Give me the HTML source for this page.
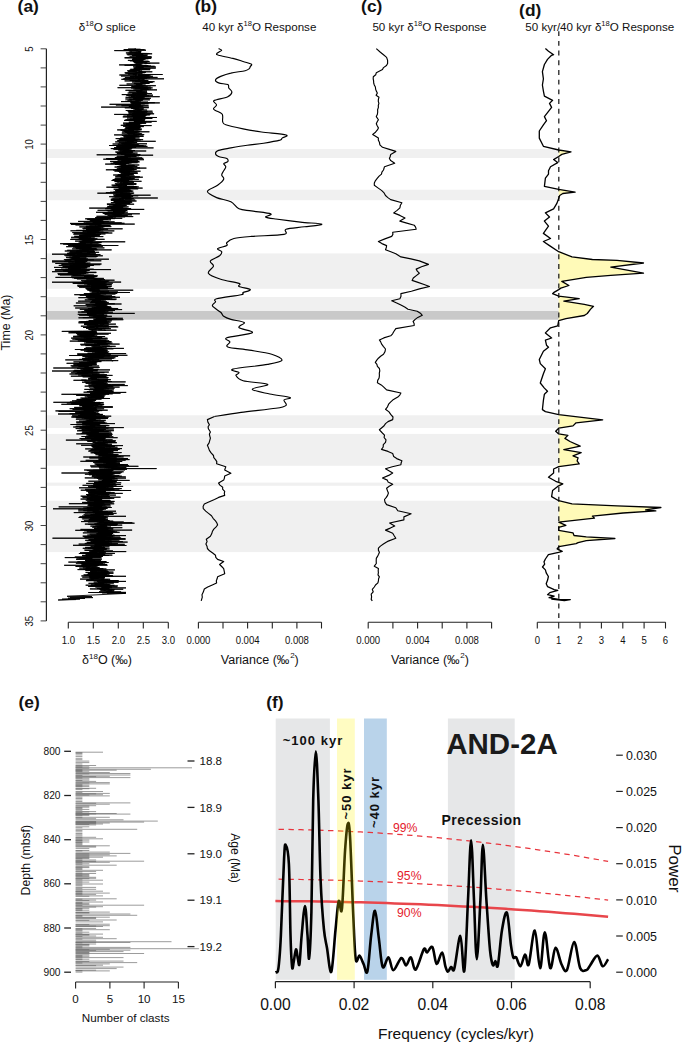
<!DOCTYPE html><html><head><meta charset="utf-8"><style>
html,body{margin:0;padding:0;background:#fff;overflow:hidden;width:685px;height:1049px;}
svg{display:block;}
text{font-family:"Liberation Sans",sans-serif;fill:#111;}
.t{font-size:10.2px;}
.l{font-size:12.5px;}
.l2{font-size:12.4px;}
.sup{font-size:8px;}
.sups{font-size:7.6px;}
.tt{font-size:11.6px;}
.pl{font-size:17.4px;font-weight:bold;}
.e{font-size:10.2px;}
.e2{font-size:11.6px;}
.e3{font-size:12.1px;}
.e4{font-size:11.7px;}
.e5{font-size:12.2px;}
.pc{font-size:12.2px;fill:#e4202c;}
.fb{font-size:13px;font-weight:bold;letter-spacing:1px;}
.fb2{font-size:14px;font-weight:bold;letter-spacing:0.55px;}
.big{font-size:29.5px;font-weight:bold;fill:#1a1a1a;}
.fx{font-size:15.7px;}
.fx2{font-size:15.5px;}
.fy{font-size:12.4px;}
.pw{font-size:17px;}
</style></head><body><svg width="685" height="1049" viewBox="0 0 685 1049"><rect width="685" height="1049" fill="#fff"/><rect x="46.8" y="149.1" width="511.99999999999994" height="8.9" fill="#f0f0f0"/><rect x="46.8" y="189.7" width="511.99999999999994" height="10.5" fill="#f0f0f0"/><rect x="46.8" y="253.4" width="511.99999999999994" height="35.4" fill="#f0f0f0"/><rect x="46.8" y="297" width="511.99999999999994" height="14.0" fill="#f0f0f0"/><rect x="46.8" y="311" width="511.99999999999994" height="8.7" fill="#c9c9c9"/><rect x="46.8" y="415.3" width="511.99999999999994" height="12.7" fill="#f0f0f0"/><rect x="46.8" y="433.9" width="511.99999999999994" height="31.9" fill="#f0f0f0"/><rect x="46.8" y="482.6" width="511.99999999999994" height="3.2" fill="#f0f0f0"/><rect x="46.8" y="500.7" width="511.99999999999994" height="51.4" fill="#f0f0f0"/><polyline points="135.3,48.8 135.9,48.9 133.3,49.0 128.1,49.1 135.1,49.2 140.5,49.3 133.7,49.4 136.8,49.5 123.7,49.6 144.6,49.7 135.4,49.8 124.0,49.9 136.8,50.0 138.0,50.1 146.0,50.2 137.9,50.3 132.0,50.4 138.3,50.5 132.1,50.6 114.3,50.6 124.9,50.7 131.8,50.8 128.9,50.9 131.0,51.0 131.4,51.1 130.6,51.2 141.3,51.3 139.0,51.4 140.9,51.5 137.5,51.6 139.7,51.7 140.7,51.8 138.0,51.9 136.2,52.0 137.0,52.1 130.2,52.2 136.7,52.3 135.5,52.4 134.9,52.5 137.3,52.6 141.1,52.7 130.9,52.8 125.9,52.9 140.2,53.0 128.6,53.1 140.4,53.2 139.8,53.3 146.3,53.4 149.6,53.5 141.6,53.6 136.0,53.7 152.1,53.8 134.6,53.9 139.8,54.0 126.7,54.1 139.9,54.1 139.3,54.2 143.2,54.3 137.0,54.4 139.6,54.5 134.2,54.6 135.8,54.7 127.5,54.8 139.1,54.9 147.8,55.0 139.1,55.1 140.3,55.2 131.9,55.3 146.9,55.4 133.2,55.5 143.0,55.6 138.7,55.7 132.2,55.8 144.6,55.9 138.4,56.0 139.5,56.1 142.8,56.2 138.5,56.3 136.3,56.4 141.6,56.5 136.3,56.6 151.5,56.7 134.8,56.8 129.7,56.9 134.8,57.0 135.9,57.1 139.1,57.2 146.3,57.3 128.5,57.4 139.7,57.5 125.1,57.6 151.6,57.6 135.4,57.7 124.5,57.8 126.8,57.9 139.2,58.0 138.6,58.1 137.3,58.2 132.9,58.3 151.2,58.4 136.9,58.5 132.6,58.6 148.4,58.7 141.8,58.8 135.8,58.9 145.6,59.0 139.2,59.1 142.3,59.2 139.8,59.3 132.0,59.4 144.4,59.5 139.3,59.6 132.0,59.7 133.4,59.8 144.0,59.9 135.6,60.0 138.1,60.1 141.7,60.2 138.3,60.3 127.9,60.4 141.2,60.5 143.0,60.6 142.5,60.7 129.9,60.8 140.6,60.9 142.0,61.0 132.8,61.1 135.6,61.1 148.3,61.2 148.5,61.3 142.8,61.4 149.5,61.5 143.6,61.6 133.0,61.7 146.7,61.8 140.7,61.9 141.4,62.0 139.8,62.1 147.3,62.2 142.3,62.3 134.6,62.4 134.6,62.5 143.3,62.6 134.3,62.7 136.0,62.8 136.3,62.9 136.4,63.0 159.4,63.1 144.8,63.2 150.2,63.3 145.8,63.4 144.6,63.5 145.4,63.6 146.5,63.7 135.8,63.8 142.4,63.9 140.1,64.0 137.3,64.1 135.3,64.2 134.9,64.3 136.4,64.4 130.4,64.5 141.3,64.6 136.0,64.7 138.8,64.7 140.2,64.8 119.1,64.9 134.5,65.0 137.6,65.1 128.3,65.2 124.6,65.3 126.4,65.4 148.1,65.5 140.3,65.6 142.6,65.7 148.2,65.8 136.3,65.9 149.5,66.0 151.0,66.1 145.6,66.2 154.7,66.3 144.0,66.4 135.9,66.5 143.9,66.6 138.1,66.7 133.0,66.8 133.4,66.9 155.9,67.0 135.7,67.1 141.8,67.2 138.1,67.3 143.2,67.4 143.5,67.5 140.2,67.6 135.3,67.7 134.2,67.8 138.4,67.9 144.8,68.0 155.8,68.1 155.4,68.2 154.0,68.2 145.5,68.3 135.9,68.4 133.7,68.5 141.6,68.6 139.0,68.7 139.0,68.8 150.5,68.9 142.1,69.0 146.6,69.1 136.9,69.2 130.3,69.3 135.5,69.4 135.7,69.5 145.4,69.6 150.0,69.7 132.9,69.8 135.2,69.9 136.4,70.0 135.1,70.1 129.5,70.2 137.9,70.3 139.6,70.4 139.9,70.5 130.1,70.6 129.1,70.7 127.2,70.8 142.1,70.9 132.0,71.0 136.8,71.1 135.9,71.2 135.3,71.3 132.5,71.4 128.2,71.5 137.7,71.6 140.9,71.7 140.9,71.7 152.3,71.8 138.5,71.9 142.4,72.0 139.0,72.1 146.0,72.2 141.6,72.3 140.2,72.4 136.4,72.5 139.6,72.6 144.9,72.7 124.7,72.8 136.7,72.9 134.9,73.0 135.7,73.1 125.4,73.2 142.4,73.3 132.8,73.4 136.9,73.5 135.4,73.6 128.5,73.7 136.3,73.8 127.9,73.9 128.2,74.0 137.8,74.1 139.9,74.2 138.1,74.3 139.3,74.4 162.6,74.5 143.0,74.6 132.8,74.7 136.6,74.8 136.3,74.9 119.4,75.0 136.6,75.1 135.0,75.2 150.5,75.2 140.5,75.3 138.1,75.4 138.6,75.5 138.8,75.6 148.8,75.7 143.2,75.8 147.2,75.9 121.0,76.0 142.4,76.1 147.1,76.2 152.9,76.3 140.9,76.4 130.3,76.5 144.7,76.6 137.5,76.7 130.2,76.8 137.6,76.9 148.1,77.0 149.2,77.1 146.3,77.2 135.3,77.3 157.5,77.4 134.6,77.5 124.9,77.6 132.9,77.7 150.0,77.8 144.5,77.9 145.7,78.0 142.1,78.1 141.0,78.2 142.3,78.3 129.4,78.4 147.1,78.5 146.4,78.6 123.5,78.7 140.3,78.8 164.0,78.8 149.8,78.9 142.6,79.0 140.1,79.1 136.6,79.2 121.4,79.3 136.0,79.4 140.2,79.5 138.2,79.6 140.3,79.7 144.5,79.8 142.7,79.9 141.8,80.0 144.2,80.1 141.4,80.2 140.1,80.3 143.3,80.4 129.7,80.5 148.3,80.6 132.6,80.7 145.8,80.8 124.6,80.9 134.4,81.0 141.1,81.1 135.2,81.2 147.8,81.3 142.4,81.4 142.1,81.5 141.9,81.6 154.5,81.7 146.7,81.8 143.1,81.9 132.0,82.0 151.3,82.1 142.3,82.2 152.7,82.3 143.9,82.3 140.8,82.4 148.7,82.5 140.5,82.6 141.0,82.7 142.1,82.8 147.8,82.9 146.9,83.0 144.4,83.1 139.2,83.2 133.8,83.3 142.2,83.4 149.5,83.5 136.7,83.6 134.1,83.7 143.2,83.8 130.5,83.9 126.6,84.0 137.4,84.1 135.8,84.2 138.2,84.3 136.4,84.4 141.8,84.5 138.3,84.6 136.0,84.7 136.8,84.8 143.6,84.9 145.6,85.0 145.3,85.1 144.1,85.2 119.4,85.3 133.7,85.4 138.0,85.5 141.3,85.6 155.8,85.7 149.0,85.8 142.1,85.8 136.4,85.9 141.3,86.0 138.1,86.1 135.6,86.2 143.4,86.3 137.4,86.4 131.4,86.5 136.1,86.6 139.3,86.7 133.3,86.8 147.7,86.9 133.1,87.0 150.7,87.1 145.3,87.2 134.0,87.3 140.6,87.4 147.2,87.5 138.8,87.6 117.6,87.7 140.8,87.8 152.6,87.9 131.1,88.0 143.9,88.1 140.7,88.2 140.0,88.3 144.1,88.4 139.1,88.5 147.6,88.6 145.0,88.7 135.2,88.8 151.0,88.9 133.4,89.0 145.5,89.1 142.5,89.2 148.7,89.3 143.3,89.3 147.5,89.4 140.6,89.5 146.6,89.6 142.4,89.7 153.4,89.8 157.0,89.9 146.9,90.0 142.2,90.1 140.1,90.2 125.5,90.3 141.4,90.4 129.3,90.5 129.8,90.6 142.6,90.7 128.5,90.8 147.0,90.9 136.4,91.0 141.7,91.1 138.6,91.2 140.9,91.3 136.7,91.4 136.3,91.5 137.9,91.6 145.4,91.7 146.0,91.8 147.0,91.9 141.5,92.0 138.1,92.1 129.0,92.2 143.4,92.3 144.6,92.4 136.9,92.5 144.3,92.6 147.2,92.7 139.6,92.8 145.4,92.8 140.6,92.9 127.7,93.0 135.4,93.1 135.5,93.2 141.1,93.3 132.3,93.4 134.7,93.5 151.9,93.6 136.9,93.7 137.4,93.8 143.0,93.9 141.8,94.0 137.9,94.1 138.4,94.2 137.6,94.3 137.7,94.4 146.7,94.5 121.8,94.6 136.3,94.7 139.4,94.8 144.6,94.9 131.0,95.0 140.1,95.1 153.0,95.2 135.4,95.3 126.4,95.4 136.1,95.5 130.9,95.6 142.3,95.7 133.0,95.8 149.2,95.9 136.1,96.0 133.0,96.1 134.8,96.2 131.0,96.3 140.1,96.4 146.8,96.4 136.1,96.5 143.1,96.6 159.7,96.7 139.1,96.8 143.1,96.9 128.5,97.0 144.8,97.1 144.5,97.2 125.6,97.3 128.4,97.4 131.2,97.5 143.4,97.6 134.8,97.7 136.5,97.8 142.0,97.9 138.5,98.0 139.3,98.1 136.0,98.2 150.9,98.3 133.4,98.4 148.8,98.5 136.4,98.6 133.7,98.7 142.7,98.8 141.5,98.9 125.4,99.0 140.1,99.1 129.2,99.2 133.5,99.3 143.4,99.4 133.0,99.5 140.4,99.6 135.7,99.7 149.9,99.8 137.1,99.9 130.3,99.9 130.5,100.0 131.6,100.1 127.5,100.2 136.8,100.3 142.7,100.4 137.6,100.5 137.2,100.6 138.3,100.7 135.4,100.8 138.0,100.9 141.0,101.0 141.0,101.1 132.7,101.2 125.2,101.3 131.2,101.4 138.0,101.5 121.0,101.6 133.6,101.7 139.4,101.8 133.3,101.9 130.0,102.0 148.0,102.1 145.9,102.2 135.9,102.3 145.8,102.4 145.9,102.5 131.0,102.6 154.8,102.7 132.5,102.8 159.8,102.9 131.8,103.0 139.2,103.1 130.7,103.2 138.8,103.3 145.6,103.4 140.3,103.4 137.3,103.5 148.5,103.6 133.3,103.7 144.7,103.8 136.7,103.9 139.8,104.0 138.6,104.1 139.1,104.2 109.6,104.3 133.3,104.4 134.6,104.5 140.8,104.6 137.5,104.7 131.0,104.8 134.0,104.9 115.9,105.0 138.3,105.1 139.9,105.2 148.5,105.3 135.0,105.4 139.3,105.5 130.8,105.6 121.5,105.7 139.1,105.8 129.2,105.9 141.2,106.0 131.9,106.1 143.3,106.2 131.8,106.3 140.9,106.4 136.0,106.5 131.1,106.6 128.8,106.7 141.2,106.8 140.4,106.9 142.6,106.9 148.8,107.0 101.1,107.1 138.7,107.2 136.0,107.3 137.2,107.4 134.2,107.5 130.8,107.6 148.7,107.7 124.8,107.8 138.0,107.9 139.4,108.0 137.8,108.1 131.2,108.2 136.2,108.3 134.9,108.4 131.5,108.5 138.2,108.6 136.4,108.7 135.8,108.8 143.8,108.9 133.3,109.0 142.9,109.1 136.6,109.2 143.3,109.3 141.2,109.4 142.3,109.5 134.8,109.6 136.2,109.7 135.5,109.8 141.8,109.9 145.2,110.0 147.1,110.1 137.1,110.2 140.5,110.3 129.7,110.4 125.8,110.5 133.9,110.5 134.9,110.6 129.2,110.7 127.6,110.8 141.8,110.9 133.4,111.0 127.8,111.1 152.5,111.2 139.1,111.3 136.1,111.4 142.2,111.5 133.3,111.6 147.8,111.7 128.5,111.8 130.0,111.9 137.3,112.0 133.5,112.1 147.0,112.2 128.5,112.3 134.0,112.4 135.2,112.5 142.2,112.6 145.1,112.7 141.2,112.8 152.9,112.9 136.5,113.0 140.6,113.1 144.9,113.2 137.7,113.3 137.8,113.4 136.7,113.5 135.4,113.6 132.2,113.7 154.1,113.8 129.1,113.9 140.7,114.0 128.3,114.0 150.5,114.1 148.0,114.2 144.1,114.3 114.2,114.4 130.8,114.5 144.3,114.6 137.7,114.7 140.0,114.8 149.9,114.9 143.1,115.0 131.6,115.1 137.3,115.2 146.5,115.3 132.8,115.4 140.0,115.5 134.3,115.6 134.5,115.7 142.4,115.8 127.0,115.9 145.7,116.0 123.4,116.1 142.1,116.2 142.0,116.3 136.2,116.4 131.5,116.5 145.2,116.6 133.4,116.7 136.2,116.8 122.8,116.9 138.3,117.0 143.3,117.1 135.0,117.2 142.1,117.3 146.7,117.4 157.0,117.5 134.9,117.5 143.3,117.6 139.3,117.7 133.0,117.8 146.8,117.9 127.0,118.0 149.0,118.1 133.2,118.2 146.5,118.3 136.2,118.4 152.3,118.5 136.6,118.6 137.9,118.7 139.0,118.8 142.1,118.9 129.9,119.0 138.3,119.1 139.7,119.2 133.4,119.3 145.2,119.4 128.9,119.5 139.3,119.6 139.5,119.7 129.4,119.8 126.2,119.9 142.1,120.0 124.9,120.1 135.5,120.2 129.7,120.3 124.0,120.4 124.8,120.5 134.2,120.6 144.5,120.7 134.7,120.8 135.1,120.9 145.0,121.0 143.3,121.0 133.9,121.1 143.3,121.2 147.4,121.3 156.7,121.4 137.5,121.5 135.9,121.6 136.8,121.7 133.9,121.8 142.2,121.9 145.2,122.0 151.6,122.1 128.8,122.2 141.8,122.3 146.2,122.4 133.2,122.5 144.7,122.6 129.0,122.7 139.3,122.8 130.4,122.9 141.7,123.0 123.0,123.1 132.5,123.2 146.1,123.3 141.2,123.4 128.0,123.5 126.1,123.6 141.5,123.7 135.7,123.8 132.2,123.9 138.2,124.0 131.9,124.1 123.4,124.2 140.1,124.3 130.9,124.4 128.5,124.5 126.2,124.6 135.8,124.6 129.0,124.7 137.6,124.8 132.0,124.9 140.1,125.0 130.9,125.1 129.1,125.2 120.8,125.3 126.1,125.4 137.3,125.5 151.6,125.6 125.0,125.7 126.3,125.8 134.9,125.9 135.8,126.0 128.7,126.1 133.5,126.2 123.2,126.3 131.5,126.4 139.1,126.5 143.8,126.6 132.8,126.7 132.3,126.8 136.9,126.9 141.0,127.0 137.2,127.1 129.5,127.2 136.4,127.3 140.1,127.4 127.2,127.5 125.4,127.6 136.8,127.7 135.7,127.8 139.3,127.9 133.6,128.0 128.9,128.1 130.0,128.1 126.2,128.2 126.6,128.3 129.0,128.4 129.5,128.5 139.5,128.6 124.7,128.7 132.1,128.8 128.7,128.9 141.7,129.0 133.9,129.1 140.2,129.2 137.1,129.3 132.2,129.4 128.5,129.5 140.9,129.6 135.7,129.7 141.6,129.8 117.2,129.9 129.7,130.0 120.6,130.1 122.9,130.2 134.1,130.3 130.0,130.4 133.8,130.5 129.5,130.6 125.2,130.7 123.4,130.8 134.4,130.9 138.4,131.0 128.6,131.1 124.3,131.2 139.8,131.3 125.9,131.4 129.4,131.5 124.7,131.6 139.6,131.6 134.0,131.7 149.4,131.8 122.2,131.9 131.8,132.0 139.4,132.1 131.3,132.2 130.5,132.3 137.4,132.4 125.4,132.5 133.6,132.6 137.1,132.7 128.2,132.8 127.9,132.9 134.8,133.0 121.8,133.1 125.4,133.2 134.5,133.3 134.6,133.4 127.3,133.5 129.0,133.6 141.1,133.7 140.6,133.8 142.1,133.9 128.0,134.0 140.4,134.1 138.2,134.2 133.0,134.3 136.2,134.4 134.4,134.5 144.2,134.6 135.1,134.7 136.1,134.8 114.1,134.9 130.4,135.0 138.9,135.1 136.6,135.1 124.6,135.2 129.3,135.3 132.5,135.4 121.9,135.5 136.7,135.6 130.7,135.7 132.4,135.8 133.6,135.9 143.4,136.0 132.1,136.1 129.7,136.2 143.5,136.3 129.1,136.4 129.1,136.5 123.5,136.6 139.6,136.7 134.3,136.8 135.6,136.9 132.6,137.0 131.4,137.1 127.0,137.2 126.8,137.3 134.6,137.4 132.3,137.5 127.1,137.6 126.1,137.7 127.7,137.8 124.0,137.9 139.5,138.0 120.4,138.1 135.2,138.2 123.3,138.3 128.9,138.4 134.5,138.5 115.7,138.6 127.0,138.7 118.5,138.7 130.5,138.8 129.4,138.9 124.2,139.0 135.4,139.1 131.5,139.2 125.7,139.3 125.8,139.4 119.4,139.5 127.9,139.6 143.1,139.7 124.4,139.8 140.7,139.9 125.5,140.0 134.5,140.1 132.1,140.2 127.7,140.3 117.4,140.4 125.9,140.5 137.3,140.6 127.9,140.7 133.8,140.8 126.5,140.9 117.5,141.0 132.9,141.1 132.4,141.2 155.7,141.3 128.1,141.4 132.6,141.5 126.9,141.6 133.2,141.7 129.6,141.8 115.2,141.9 129.9,142.0 126.8,142.1 125.0,142.2 133.1,142.2 127.0,142.3 133.6,142.4 137.1,142.5 130.5,142.6 118.9,142.7 124.0,142.8 134.8,142.9 130.4,143.0 122.7,143.1 127.2,143.2 130.9,143.3 129.1,143.4 131.5,143.5 121.4,143.6 125.0,143.7 147.0,143.8 128.8,143.9 112.6,144.0 125.2,144.1 117.8,144.2 136.3,144.3 137.6,144.4 138.6,144.5 132.9,144.6 124.3,144.7 134.1,144.8 126.4,144.9 132.0,145.0 121.9,145.1 124.1,145.2 131.2,145.3 140.1,145.4 109.0,145.5 143.5,145.6 129.7,145.7 119.8,145.7 128.3,145.8 122.1,145.9 146.2,146.0 124.9,146.1 128.0,146.2 134.8,146.3 147.4,146.4 129.7,146.5 116.4,146.6 128.1,146.7 127.8,146.8 130.4,146.9 126.1,147.0 129.0,147.1 116.3,147.2 130.1,147.3 136.1,147.4 125.2,147.5 114.1,147.6 132.6,147.7 121.0,147.8 153.5,147.9 121.6,148.0 127.2,148.1 125.8,148.2 131.8,148.3 127.8,148.4 124.7,148.5 110.8,148.6 117.0,148.7 115.6,148.8 129.8,148.9 118.7,149.0 121.8,149.1 129.4,149.2 113.6,149.2 113.5,149.3 125.4,149.4 128.7,149.5 123.9,149.6 117.9,149.7 127.3,149.8 118.1,149.9 131.5,150.0 126.3,150.1 128.7,150.2 131.2,150.3 123.2,150.4 132.3,150.5 135.0,150.6 129.2,150.7 120.0,150.8 122.1,150.9 146.2,151.0 128.0,151.1 119.4,151.2 125.4,151.3 122.2,151.4 122.0,151.5 126.2,151.6 132.7,151.7 123.3,151.8 126.2,151.9 115.3,152.0 126.0,152.1 133.1,152.2 130.8,152.3 128.6,152.4 121.8,152.5 118.8,152.6 124.8,152.7 116.4,152.7 117.1,152.8 131.8,152.9 119.1,153.0 137.5,153.1 131.1,153.2 128.0,153.3 117.0,153.4 126.0,153.5 117.6,153.6 124.9,153.7 123.5,153.8 121.5,153.9 128.0,154.0 134.9,154.1 120.7,154.2 130.9,154.3 125.6,154.4 125.0,154.5 140.4,154.6 138.5,154.7 96.7,154.8 126.1,154.9 124.4,155.0 125.3,155.1 153.1,155.2 129.7,155.3 139.8,155.4 136.5,155.5 124.8,155.6 131.1,155.7 139.2,155.8 128.9,155.9 129.0,156.0 130.9,156.1 117.0,156.2 126.1,156.3 129.1,156.3 130.3,156.4 136.4,156.5 124.1,156.6 120.4,156.7 125.0,156.8 130.7,156.9 126.6,157.0 127.0,157.1 116.2,157.2 118.7,157.3 128.0,157.4 114.9,157.5 127.6,157.6 121.1,157.7 120.0,157.8 142.1,157.9 116.6,158.0 119.2,158.1 120.2,158.2 125.1,158.3 143.3,158.4 109.8,158.5 124.1,158.6 106.0,158.7 130.7,158.8 121.7,158.9 107.4,159.0 133.5,159.1 103.3,159.2 124.5,159.3 115.9,159.4 118.1,159.5 122.5,159.6 144.0,159.7 132.4,159.8 122.8,159.8 138.0,159.9 124.7,160.0 128.1,160.1 117.6,160.2 131.6,160.3 123.0,160.4 126.2,160.5 128.5,160.6 127.4,160.7 121.1,160.8 138.2,160.9 122.9,161.0 131.1,161.1 127.0,161.2 133.8,161.3 110.1,161.4 139.0,161.5 123.2,161.6 116.0,161.7 125.1,161.8 139.6,161.9 127.2,162.0 115.1,162.1 120.2,162.2 132.4,162.3 113.4,162.4 121.4,162.5 120.7,162.6 137.6,162.7 120.6,162.8 131.5,162.9 117.8,163.0 116.9,163.1 129.3,163.2 126.7,163.3 110.6,163.3 127.0,163.4 127.2,163.5 122.0,163.6 124.6,163.7 125.2,163.8 120.2,163.9 119.8,164.0 105.2,164.1 117.9,164.2 115.6,164.3 124.8,164.4 115.0,164.5 126.1,164.6 125.2,164.7 118.7,164.8 131.8,164.9 139.3,165.0 135.0,165.1 128.1,165.2 134.5,165.3 127.0,165.4 125.0,165.5 121.1,165.6 125.0,165.7 134.5,165.8 128.5,165.9 121.8,166.0 120.0,166.1 121.7,166.2 128.1,166.3 137.3,166.4 117.2,166.5 124.4,166.6 121.7,166.7 119.2,166.8 117.6,166.8 128.1,166.9 114.6,167.0 117.2,167.1 132.6,167.2 126.7,167.3 128.2,167.4 121.3,167.5 122.3,167.6 128.2,167.7 121.9,167.8 139.9,167.9 125.8,168.0 146.4,168.1 119.2,168.2 133.8,168.3 131.5,168.4 120.8,168.5 126.9,168.6 126.7,168.7 131.3,168.8 116.8,168.9 133.2,169.0 117.5,169.1 133.8,169.2 127.3,169.3 129.3,169.4 128.5,169.5 136.6,169.6 117.6,169.7 105.9,169.8 132.0,169.9 113.1,170.0 134.4,170.1 115.4,170.2 123.6,170.3 122.7,170.4 122.5,170.4 124.7,170.5 117.1,170.6 117.7,170.7 128.9,170.8 130.2,170.9 120.5,171.0 114.5,171.1 140.5,171.2 132.3,171.3 127.3,171.4 117.9,171.5 121.2,171.6 127.1,171.7 119.0,171.8 136.9,171.9 127.0,172.0 129.0,172.1 119.4,172.2 130.0,172.3 121.5,172.4 129.0,172.5 125.4,172.6 125.4,172.7 129.6,172.8 129.1,172.9 137.8,173.0 126.2,173.1 120.6,173.2 127.4,173.3 137.5,173.4 123.5,173.5 127.6,173.6 124.7,173.7 129.8,173.8 128.7,173.9 121.2,173.9 125.1,174.0 133.1,174.1 134.0,174.2 132.8,174.3 124.0,174.4 124.0,174.5 123.8,174.6 132.6,174.7 118.1,174.8 125.6,174.9 113.2,175.0 123.2,175.1 120.8,175.2 117.3,175.3 129.4,175.4 120.2,175.5 122.6,175.6 123.2,175.7 119.8,175.8 134.5,175.9 121.2,176.0 125.9,176.1 115.5,176.2 121.2,176.3 122.2,176.4 122.3,176.5 120.5,176.6 125.5,176.7 139.8,176.8 123.9,176.9 115.3,177.0 122.5,177.1 142.8,177.2 136.7,177.3 129.6,177.4 130.8,177.4 121.3,177.5 125.3,177.6 128.0,177.7 127.5,177.8 120.8,177.9 121.3,178.0 130.2,178.1 128.7,178.2 120.9,178.3 126.8,178.4 134.6,178.5 121.1,178.6 130.5,178.7 114.8,178.8 130.1,178.9 116.2,179.0 114.8,179.1 123.5,179.2 138.9,179.3 118.0,179.4 113.2,179.5 124.8,179.6 123.0,179.7 132.7,179.8 112.5,179.9 125.6,180.0 119.1,180.1 124.0,180.2 124.0,180.3 129.2,180.4 111.6,180.5 116.4,180.6 121.4,180.7 128.2,180.8 125.9,180.9 119.8,180.9 115.7,181.0 128.9,181.1 129.4,181.2 141.5,181.3 121.6,181.4 134.0,181.5 114.5,181.6 119.1,181.7 118.2,181.8 119.6,181.9 116.8,182.0 119.2,182.1 122.6,182.2 120.0,182.3 127.8,182.4 122.8,182.5 123.6,182.6 133.9,182.7 126.2,182.8 125.3,182.9 124.3,183.0 125.1,183.1 128.9,183.2 119.6,183.3 133.2,183.4 136.3,183.5 133.6,183.6 122.4,183.7 114.9,183.8 123.0,183.9 127.1,184.0 131.7,184.1 124.7,184.2 123.8,184.3 136.3,184.4 121.0,184.5 132.8,184.5 123.3,184.6 115.9,184.7 126.8,184.8 120.8,184.9 117.9,185.0 111.6,185.1 113.4,185.2 126.9,185.3 121.3,185.4 113.8,185.5 116.6,185.6 121.8,185.7 122.1,185.8 113.3,185.9 112.5,186.0 127.0,186.1 125.0,186.2 134.0,186.3 123.2,186.4 128.5,186.5 136.6,186.6 117.8,186.7 128.2,186.8 138.7,186.9 124.6,187.0 134.3,187.1 106.4,187.2 134.3,187.3 124.2,187.4 111.4,187.5 129.7,187.6 131.5,187.7 132.5,187.8 126.0,187.9 137.1,188.0 118.4,188.0 142.6,188.1 122.9,188.2 125.7,188.3 119.4,188.4 122.9,188.5 128.5,188.6 124.6,188.7 138.2,188.8 137.3,188.9 118.5,189.0 118.6,189.1 113.7,189.2 114.9,189.3 126.9,189.4 116.5,189.5 116.3,189.6 121.9,189.7 129.5,189.8 121.6,189.9 121.7,190.0 130.6,190.1 127.6,190.2 127.5,190.3 130.9,190.4 117.3,190.5 125.8,190.6 115.0,190.7 131.3,190.8 129.8,190.9 116.8,191.0 133.3,191.1 115.9,191.2 132.1,191.3 125.3,191.4 117.7,191.5 115.9,191.5 121.4,191.6 123.3,191.7 118.4,191.8 127.2,191.9 113.4,192.0 123.1,192.1 123.1,192.2 110.1,192.3 117.8,192.4 115.2,192.5 105.9,192.6 119.1,192.7 121.9,192.8 129.9,192.9 120.3,193.0 134.1,193.1 97.4,193.2 131.6,193.3 133.2,193.4 126.4,193.5 120.1,193.6 128.5,193.7 130.8,193.8 125.7,193.9 122.4,194.0 113.2,194.1 129.0,194.2 126.9,194.3 115.6,194.4 125.6,194.5 130.3,194.6 124.7,194.7 131.3,194.8 131.4,194.9 116.1,195.0 124.5,195.0 130.2,195.1 150.6,195.2 136.9,195.3 113.6,195.4 126.4,195.5 131.8,195.6 135.1,195.7 138.2,195.8 119.5,195.9 123.2,196.0 118.1,196.1 131.0,196.2 115.7,196.3 133.1,196.4 131.2,196.5 128.0,196.6 109.2,196.7 119.7,196.8 129.7,196.9 114.5,197.0 122.8,197.1 123.8,197.2 130.8,197.3 126.6,197.4 126.5,197.5 121.5,197.6 124.7,197.7 131.3,197.8 129.7,197.9 157.8,198.0 131.7,198.1 112.4,198.2 132.7,198.3 122.9,198.4 131.9,198.5 124.3,198.6 129.6,198.6 133.8,198.7 119.2,198.8 123.5,198.9 121.5,199.0 123.9,199.1 110.9,199.2 120.9,199.3 120.2,199.4 116.3,199.5 120.4,199.6 110.9,199.7 131.6,199.8 125.0,199.9 135.2,200.0 116.0,200.1 114.1,200.2 124.5,200.3 110.9,200.4 116.1,200.5 118.1,200.6 120.8,200.7 125.1,200.8 123.7,200.9 136.5,201.0 127.8,201.1 114.2,201.2 130.2,201.3 113.7,201.4 123.6,201.5 114.0,201.6 116.8,201.7 131.7,201.8 118.4,201.9 127.1,202.0 118.2,202.1 119.9,202.1 132.2,202.2 113.7,202.3 113.3,202.4 126.2,202.5 110.9,202.6 119.7,202.7 130.3,202.8 122.3,202.9 122.4,203.0 117.2,203.1 115.6,203.2 117.7,203.3 122.7,203.4 130.2,203.5 128.0,203.6 116.8,203.7 115.3,203.8 125.1,203.9 106.9,204.0 116.4,204.1 134.1,204.2 111.2,204.3 120.1,204.4 121.3,204.5 107.0,204.6 112.3,204.7 118.8,204.8 119.3,204.9 109.0,205.0 126.5,205.1 116.5,205.2 116.8,205.3 116.0,205.4 113.7,205.5 121.9,205.6 126.5,205.6 119.6,205.7 117.3,205.8 125.1,205.9 112.8,206.0 122.4,206.1 118.0,206.2 111.6,206.3 123.4,206.4 107.4,206.5 122.9,206.6 112.1,206.7 121.5,206.8 128.6,206.9 122.9,207.0 114.7,207.1 118.9,207.2 116.6,207.3 110.9,207.4 111.4,207.5 119.6,207.6 123.2,207.7 106.7,207.8 118.8,207.9 123.0,208.0 89.2,208.1 110.6,208.2 126.9,208.3 110.8,208.4 124.2,208.5 131.1,208.6 105.1,208.7 121.6,208.8 122.1,208.9 121.5,209.0 114.4,209.1 117.6,209.1 110.7,209.2 120.5,209.3 144.2,209.4 114.4,209.5 112.3,209.6 115.3,209.7 118.4,209.8 118.6,209.9 117.1,210.0 127.4,210.1 108.0,210.2 97.6,210.3 121.4,210.4 127.1,210.5 106.6,210.6 111.9,210.7 118.8,210.8 123.5,210.9 121.3,211.0 125.8,211.1 116.2,211.2 119.6,211.3 119.5,211.4 113.4,211.5 125.0,211.6 120.7,211.7 123.1,211.8 113.0,211.9 123.0,212.0 107.8,212.1 127.8,212.2 96.0,212.3 107.3,212.4 119.6,212.5 110.8,212.6 115.1,212.6 102.0,212.7 124.7,212.8 117.7,212.9 113.2,213.0 116.4,213.1 124.0,213.2 123.8,213.3 115.2,213.4 103.2,213.5 112.9,213.6 123.5,213.7 139.8,213.8 111.8,213.9 119.5,214.0 116.3,214.1 120.2,214.2 104.7,214.3 110.0,214.4 121.7,214.5 115.6,214.6 120.1,214.7 132.0,214.8 115.7,214.9 119.9,215.0 114.2,215.1 113.8,215.2 117.7,215.3 107.6,215.4 116.6,215.5 127.7,215.6 116.8,215.7 125.4,215.8 117.8,215.9 117.7,216.0 121.1,216.1 121.1,216.2 106.9,216.2 96.5,216.3 108.1,216.4 125.6,216.5 133.2,216.6 114.3,216.7 125.1,216.8 109.5,216.9 115.8,217.0 110.9,217.1 112.9,217.2 102.7,217.3 101.5,217.4 110.3,217.5 95.3,217.6 100.0,217.7 110.6,217.8 100.4,217.9 97.7,218.0 95.3,218.1 104.2,218.2 122.2,218.3 105.0,218.4 99.5,218.5 115.1,218.6 97.2,218.7 85.2,218.8 101.5,218.9 100.5,219.0 101.7,219.1 87.6,219.2 107.9,219.3 100.0,219.4 99.9,219.5 87.4,219.6 103.9,219.7 99.5,219.7 111.0,219.8 96.5,219.9 89.7,220.0 100.7,220.1 92.0,220.2 102.8,220.3 90.2,220.4 97.9,220.5 96.9,220.6 98.3,220.7 94.1,220.8 91.4,220.9 97.5,221.0 92.9,221.1 99.0,221.2 95.2,221.3 78.1,221.4 96.6,221.5 108.8,221.6 99.2,221.7 101.5,221.8 114.6,221.9 91.6,222.0 83.7,222.1 102.0,222.2 103.8,222.3 99.1,222.4 97.5,222.5 96.8,222.6 92.7,222.7 95.1,222.8 121.7,222.9 95.1,223.0 104.5,223.1 86.2,223.2 97.0,223.2 124.5,223.3 70.0,223.4 93.3,223.5 71.5,223.6 99.9,223.7 99.4,223.8 99.2,223.9 87.2,224.0 134.7,224.1 91.9,224.2 94.4,224.3 70.9,224.4 96.2,224.5 101.4,224.6 100.7,224.7 85.7,224.8 75.5,224.9 95.6,225.0 89.5,225.1 99.7,225.2 110.6,225.3 110.5,225.4 97.9,225.5 105.2,225.6 109.9,225.7 94.9,225.8 96.7,225.9 101.7,226.0 93.1,226.1 88.5,226.2 85.8,226.3 92.4,226.4 86.3,226.5 111.3,226.6 88.3,226.7 104.6,226.7 98.3,226.8 79.4,226.9 100.7,227.0 87.0,227.1 103.3,227.2 95.5,227.3 90.5,227.4 97.3,227.5 86.2,227.6 94.6,227.7 95.5,227.8 90.9,227.9 96.1,228.0 83.8,228.1 98.4,228.2 82.5,228.3 99.6,228.4 98.5,228.5 100.9,228.6 89.5,228.7 122.6,228.8 92.8,228.9 96.4,229.0 88.1,229.1 108.1,229.2 99.1,229.3 104.0,229.4 86.2,229.5 97.6,229.6 91.2,229.7 103.0,229.8 91.6,229.9 86.2,230.0 98.1,230.1 82.9,230.2 84.9,230.3 100.4,230.3 76.2,230.4 100.1,230.5 89.3,230.6 84.5,230.7 70.5,230.8 114.3,230.9 87.1,231.0 90.6,231.1 99.4,231.2 89.9,231.3 91.2,231.4 84.5,231.5 82.7,231.6 85.8,231.7 97.2,231.8 96.2,231.9 93.6,232.0 103.5,232.1 88.1,232.2 87.4,232.3 87.4,232.4 108.3,232.5 72.3,232.6 93.6,232.7 95.1,232.8 91.6,232.9 112.3,233.0 101.7,233.1 98.0,233.2 73.9,233.3 95.4,233.4 87.4,233.5 91.1,233.6 80.3,233.7 87.7,233.8 96.3,233.8 105.4,233.9 100.0,234.0 92.7,234.1 73.4,234.2 100.9,234.3 101.0,234.4 89.6,234.5 87.2,234.6 97.7,234.7 84.6,234.8 99.2,234.9 82.4,235.0 83.9,235.1 92.3,235.2 79.0,235.3 92.1,235.4 96.7,235.5 79.8,235.6 99.9,235.7 86.2,235.8 95.9,235.9 93.8,236.0 86.2,236.1 85.2,236.2 74.2,236.3 82.9,236.4 81.9,236.5 103.3,236.6 97.3,236.7 75.5,236.8 94.8,236.9 89.3,237.0 83.7,237.1 91.1,237.2 71.1,237.3 81.5,237.3 84.1,237.4 88.0,237.5 77.6,237.6 88.1,237.7 85.7,237.8 80.3,237.9 78.9,238.0 89.3,238.1 94.5,238.2 89.6,238.3 79.0,238.4 93.5,238.5 88.4,238.6 92.2,238.7 97.4,238.8 78.8,238.9 85.6,239.0 81.5,239.1 70.8,239.2 104.6,239.3 94.9,239.4 70.4,239.5 89.9,239.6 80.9,239.7 96.0,239.8 86.3,239.9 83.8,240.0 86.6,240.1 88.7,240.2 85.5,240.3 83.3,240.4 84.1,240.5 90.1,240.6 94.6,240.7 85.8,240.8 85.0,240.8 81.9,240.9 93.1,241.0 75.1,241.1 83.6,241.2 79.4,241.3 92.1,241.4 83.1,241.5 87.8,241.6 87.2,241.7 125.2,241.8 91.2,241.9 80.3,242.0 84.5,242.1 85.5,242.2 79.6,242.3 92.6,242.4 101.5,242.5 86.9,242.6 80.7,242.7 99.7,242.8 90.2,242.9 98.4,243.0 86.8,243.1 78.3,243.2 85.7,243.3 85.4,243.4 83.3,243.5 76.2,243.6 60.1,243.7 78.0,243.8 92.3,243.9 84.9,244.0 63.2,244.1 83.2,244.2 66.7,244.3 101.3,244.4 85.3,244.4 73.0,244.5 91.2,244.6 77.1,244.7 89.4,244.8 84.7,244.9 74.0,245.0 90.6,245.1 72.7,245.2 96.7,245.3 85.2,245.4 118.3,245.5 68.2,245.6 98.8,245.7 81.7,245.8 72.7,245.9 98.6,246.0 85.1,246.1 81.4,246.2 102.8,246.3 80.7,246.4 95.8,246.5 84.2,246.6 66.2,246.7 89.6,246.8 90.7,246.9 73.0,247.0 79.7,247.1 74.8,247.2 83.5,247.3 86.8,247.4 85.6,247.5 78.2,247.6 76.6,247.7 91.5,247.8 83.2,247.9 104.4,247.9 77.1,248.0 91.5,248.1 84.8,248.2 77.6,248.3 96.5,248.4 85.3,248.5 75.9,248.6 80.9,248.7 92.6,248.8 72.1,248.9 95.2,249.0 88.6,249.1 79.6,249.2 93.9,249.3 97.1,249.4 86.5,249.5 82.4,249.6 97.3,249.7 94.0,249.8 111.6,249.9 78.6,250.0 78.5,250.1 76.8,250.2 67.2,250.3 88.9,250.4 81.7,250.5 82.1,250.6 94.1,250.7 76.6,250.8 81.4,250.9 64.8,251.0 78.4,251.1 81.5,251.2 89.5,251.3 82.6,251.4 94.7,251.4 76.0,251.5 84.6,251.6 69.9,251.7 81.6,251.8 76.3,251.9 94.9,252.0 89.3,252.1 87.1,252.2 99.1,252.3 95.5,252.4 88.9,252.5 76.2,252.6 69.4,252.7 82.2,252.8 79.2,252.9 76.6,253.0 79.8,253.1 67.4,253.2 95.8,253.3 71.9,253.4 76.0,253.5 87.2,253.6 67.1,253.7 90.1,253.8 90.2,253.9 78.7,254.0 71.4,254.1 52.0,254.2 80.2,254.3 93.7,254.4 81.5,254.5 100.4,254.6 77.2,254.7 97.1,254.8 94.2,254.9 68.9,254.9 75.1,255.0 64.3,255.1 86.3,255.2 81.6,255.3 67.2,255.4 79.0,255.5 76.2,255.6 73.8,255.7 102.8,255.8 65.6,255.9 87.3,256.0 82.8,256.1 76.0,256.2 72.4,256.3 90.3,256.4 97.6,256.5 76.6,256.6 85.5,256.7 96.5,256.8 74.9,256.9 79.6,257.0 69.3,257.1 72.7,257.2 79.7,257.3 76.6,257.4 73.7,257.5 66.0,257.6 68.2,257.7 71.6,257.8 86.3,257.9 75.8,258.0 72.7,258.1 86.3,258.2 85.4,258.3 73.2,258.4 74.1,258.5 85.6,258.5 82.6,258.6 71.3,258.7 80.8,258.8 77.9,258.9 88.0,259.0 69.6,259.1 108.9,259.2 80.8,259.3 67.4,259.4 86.0,259.5 84.5,259.6 63.9,259.7 94.0,259.8 65.2,259.9 67.2,260.0 72.6,260.1 82.6,260.2 80.8,260.3 74.6,260.4 87.9,260.5 79.1,260.6 88.2,260.7 101.3,260.8 77.1,260.9 52.0,261.0 71.2,261.1 65.4,261.2 76.3,261.3 87.2,261.4 64.0,261.5 64.7,261.6 72.9,261.7 73.5,261.8 52.0,261.9 84.3,262.0 75.7,262.0 75.3,262.1 78.2,262.2 78.9,262.3 75.1,262.4 85.2,262.5 85.6,262.6 80.0,262.7 73.2,262.8 68.3,262.9 88.3,263.0 90.4,263.1 72.3,263.2 79.8,263.3 68.4,263.4 55.4,263.5 88.3,263.6 78.6,263.7 70.0,263.8 74.5,263.9 101.5,264.0 88.7,264.1 83.9,264.2 76.3,264.3 66.1,264.4 61.5,264.5 79.3,264.6 100.3,264.7 92.2,264.8 77.9,264.9 73.8,265.0 87.2,265.1 86.6,265.2 62.9,265.3 58.8,265.4 93.8,265.5 78.5,265.5 90.8,265.6 77.7,265.7 89.3,265.8 69.5,265.9 79.9,266.0 89.9,266.1 85.0,266.2 71.1,266.3 84.1,266.4 69.5,266.5 62.6,266.6 81.3,266.7 89.8,266.8 84.9,266.9 65.1,267.0 85.5,267.1 83.8,267.2 73.1,267.3 54.0,267.4 87.3,267.5 86.0,267.6 82.3,267.7 61.0,267.8 85.7,267.9 86.8,268.0 84.6,268.1 81.5,268.2 74.3,268.3 80.3,268.4 73.4,268.5 73.4,268.6 68.1,268.7 78.8,268.8 72.3,268.9 85.3,269.0 83.1,269.0 68.4,269.1 93.7,269.2 65.4,269.3 80.4,269.4 86.5,269.5 111.0,269.6 55.0,269.7 85.7,269.8 87.8,269.9 89.9,270.0 54.9,270.1 69.7,270.2 75.3,270.3 72.1,270.4 89.3,270.5 70.0,270.6 88.4,270.7 82.1,270.8 62.8,270.9 67.3,271.0 72.4,271.1 64.6,271.2 86.6,271.3 80.7,271.4 86.0,271.5 62.3,271.6 52.0,271.7 74.3,271.8 82.7,271.9 74.2,272.0 68.0,272.1 81.8,272.2 96.3,272.3 76.6,272.4 70.6,272.5 69.3,272.5 96.2,272.6 76.7,272.7 82.8,272.8 88.5,272.9 87.0,273.0 67.7,273.1 85.6,273.2 84.5,273.3 81.0,273.4 86.1,273.5 71.0,273.6 57.6,273.7 71.7,273.8 84.2,273.9 70.9,274.0 81.2,274.1 67.2,274.2 76.8,274.3 74.8,274.4 77.5,274.5 58.0,274.6 77.5,274.7 77.4,274.8 59.9,274.9 90.7,275.0 93.9,275.1 78.3,275.2 72.9,275.3 90.7,275.4 72.7,275.5 86.4,275.6 93.0,275.7 97.7,275.8 93.6,275.9 88.4,276.0 71.2,276.1 95.3,276.1 94.5,276.2 91.2,276.3 91.0,276.4 84.1,276.5 97.1,276.6 93.8,276.7 95.6,276.8 87.2,276.9 92.3,277.0 86.0,277.1 92.3,277.2 86.6,277.3 55.5,277.4 94.3,277.5 93.3,277.6 71.9,277.7 93.3,277.8 86.3,277.9 75.4,278.0 93.3,278.1 73.9,278.2 95.9,278.3 103.9,278.4 83.4,278.5 97.3,278.6 93.2,278.7 95.5,278.8 76.9,278.9 95.9,279.0 91.7,279.1 86.4,279.2 96.5,279.3 101.8,279.4 94.4,279.5 98.4,279.6 104.9,279.6 93.8,279.7 101.4,279.8 94.1,279.9 96.9,280.0 104.2,280.1 114.5,280.2 103.3,280.3 91.0,280.4 99.0,280.5 95.5,280.6 81.1,280.7 94.6,280.8 100.3,280.9 86.5,281.0 109.2,281.1 92.6,281.2 84.7,281.3 108.0,281.4 90.0,281.5 90.3,281.6 84.5,281.7 92.5,281.8 85.1,281.9 82.0,282.0 121.1,282.1 52.0,282.2 102.7,282.3 80.1,282.4 90.2,282.5 84.8,282.6 78.7,282.7 106.6,282.8 72.5,282.9 105.0,283.0 79.1,283.1 93.0,283.1 112.8,283.2 73.1,283.3 80.1,283.4 104.5,283.5 94.3,283.6 87.8,283.7 92.5,283.8 84.1,283.9 93.9,284.0 106.3,284.1 89.4,284.2 94.2,284.3 103.8,284.4 111.0,284.5 88.0,284.6 96.1,284.7 112.0,284.8 86.9,284.9 90.6,285.0 88.8,285.1 79.3,285.2 77.3,285.3 88.8,285.4 96.7,285.5 106.6,285.6 91.1,285.7 94.4,285.8 105.0,285.9 100.1,286.0 94.5,286.1 94.9,286.2 111.7,286.3 77.7,286.4 90.2,286.5 79.9,286.6 97.9,286.6 91.6,286.7 110.7,286.8 90.9,286.9 101.0,287.0 102.2,287.1 79.1,287.2 82.7,287.3 108.1,287.4 94.6,287.5 93.7,287.6 91.9,287.7 91.2,287.8 102.9,287.9 92.1,288.0 107.7,288.1 94.7,288.2 85.6,288.3 93.1,288.4 113.5,288.5 96.5,288.6 89.7,288.7 107.8,288.8 85.9,288.9 91.5,289.0 88.1,289.1 90.9,289.2 99.4,289.3 87.4,289.4 87.3,289.5 92.8,289.6 94.9,289.7 91.0,289.8 94.6,289.9 89.0,290.0 89.3,290.1 133.2,290.2 87.4,290.2 100.1,290.3 95.0,290.4 89.0,290.5 91.8,290.6 93.0,290.7 95.8,290.8 98.1,290.9 95.3,291.0 89.5,291.1 109.0,291.2 104.3,291.3 97.4,291.4 104.3,291.5 98.8,291.6 92.3,291.7 96.3,291.8 117.9,291.9 103.6,292.0 103.8,292.1 91.6,292.2 99.8,292.3 113.6,292.4 129.9,292.5 103.5,292.6 105.0,292.7 99.9,292.8 107.7,292.9 96.6,293.0 99.0,293.1 89.7,293.2 117.2,293.3 97.9,293.4 96.5,293.5 83.9,293.6 91.8,293.7 95.9,293.7 106.1,293.8 96.3,293.9 115.4,294.0 100.5,294.1 94.9,294.2 90.8,294.3 93.2,294.4 94.5,294.5 91.1,294.6 74.3,294.7 100.6,294.8 96.1,294.9 85.1,295.0 99.1,295.1 79.7,295.2 96.4,295.3 95.3,295.4 102.3,295.5 88.3,295.6 89.5,295.7 112.0,295.8 93.2,295.9 93.8,296.0 103.4,296.1 99.1,296.2 104.3,296.3 85.9,296.4 87.1,296.5 115.3,296.6 95.8,296.7 93.9,296.8 97.7,296.9 104.5,297.0 87.1,297.1 99.1,297.2 96.8,297.2 120.0,297.3 98.8,297.4 93.4,297.5 90.9,297.6 78.4,297.7 108.0,297.8 86.7,297.9 95.5,298.0 112.3,298.1 95.6,298.2 104.1,298.3 97.5,298.4 104.9,298.5 99.5,298.6 95.1,298.7 110.0,298.8 96.9,298.9 88.2,299.0 116.6,299.1 103.2,299.2 89.8,299.3 105.0,299.4 104.8,299.5 115.6,299.6 93.3,299.7 103.7,299.8 84.8,299.9 94.7,300.0 98.8,300.1 101.0,300.2 97.1,300.3 96.6,300.4 92.2,300.5 93.4,300.6 99.2,300.7 101.1,300.7 101.6,300.8 104.4,300.9 105.8,301.0 81.7,301.1 78.1,301.2 94.9,301.3 91.1,301.4 104.8,301.5 102.5,301.6 95.8,301.7 97.7,301.8 107.0,301.9 94.2,302.0 94.6,302.1 104.5,302.2 91.1,302.3 108.7,302.4 100.3,302.5 103.4,302.6 93.0,302.7 89.8,302.8 97.2,302.9 75.9,303.0 100.4,303.1 104.9,303.2 97.7,303.3 95.3,303.4 105.8,303.5 96.7,303.6 105.0,303.7 114.8,303.8 103.1,303.9 121.5,304.0 101.6,304.1 99.8,304.2 100.2,304.3 98.7,304.3 107.1,304.4 85.7,304.5 90.7,304.6 104.5,304.7 92.7,304.8 98.8,304.9 94.4,305.0 103.7,305.1 107.3,305.2 97.3,305.3 104.8,305.4 95.1,305.5 103.0,305.6 105.7,305.7 73.7,305.8 84.1,305.9 104.3,306.0 86.7,306.1 107.2,306.2 105.0,306.3 105.5,306.4 108.6,306.5 104.6,306.6 96.3,306.7 104.4,306.8 111.1,306.9 100.6,307.0 101.7,307.1 91.7,307.2 110.6,307.3 97.2,307.4 98.7,307.5 97.4,307.6 94.0,307.7 98.7,307.8 110.8,307.8 106.8,307.9 75.2,308.0 112.1,308.1 92.9,308.2 103.8,308.3 111.8,308.4 118.1,308.5 88.1,308.6 87.9,308.7 102.9,308.8 96.2,308.9 90.7,309.0 101.5,309.1 104.7,309.2 79.8,309.3 97.6,309.4 98.6,309.5 122.1,309.6 105.0,309.7 98.9,309.8 95.6,309.9 92.3,310.0 84.5,310.1 103.7,310.2 106.1,310.3 103.5,310.4 114.9,310.5 97.4,310.6 84.4,310.7 105.5,310.8 102.3,310.9 89.6,311.0 86.0,311.1 93.1,311.2 104.6,311.3 89.8,311.3 96.1,311.4 92.5,311.5 89.3,311.6 88.2,311.7 108.4,311.8 81.5,311.9 93.4,312.0 77.9,312.1 112.9,312.2 91.3,312.3 92.2,312.4 89.9,312.5 102.1,312.6 86.9,312.7 99.8,312.8 97.5,312.9 106.4,313.0 90.2,313.1 93.7,313.2 97.0,313.3 134.7,313.4 87.0,313.5 101.1,313.6 93.4,313.7 101.1,313.8 103.8,313.9 99.6,314.0 100.5,314.1 100.6,314.2 77.8,314.3 96.5,314.4 84.9,314.5 95.3,314.6 92.0,314.7 96.1,314.8 104.1,314.8 101.3,314.9 102.1,315.0 107.2,315.1 79.2,315.2 101.7,315.3 98.1,315.4 97.4,315.5 87.6,315.6 102.4,315.7 107.1,315.8 106.0,315.9 96.9,316.0 89.1,316.1 104.7,316.2 111.9,316.3 107.0,316.4 98.2,316.5 97.8,316.6 98.4,316.7 98.9,316.8 93.2,316.9 103.6,317.0 92.1,317.1 91.5,317.2 101.1,317.3 94.0,317.4 97.1,317.5 82.8,317.6 106.3,317.7 78.5,317.8 99.8,317.9 104.9,318.0 103.2,318.1 96.2,318.2 122.8,318.3 98.6,318.4 110.1,318.4 117.1,318.5 97.4,318.6 103.1,318.7 95.8,318.8 110.7,318.9 99.1,319.0 93.2,319.1 112.6,319.2 109.3,319.3 94.6,319.4 111.2,319.5 103.1,319.6 123.3,319.7 115.1,319.8 96.8,319.9 99.0,320.0 94.0,320.1 102.0,320.2 101.2,320.3 106.7,320.4 101.3,320.5 88.7,320.6 94.0,320.7 111.8,320.8 109.6,320.9 99.0,321.0 99.1,321.1 98.7,321.2 100.1,321.3 86.2,321.4 106.8,321.5 94.1,321.6 100.4,321.7 78.7,321.8 100.7,321.9 109.4,321.9 80.6,322.0 110.7,322.1 102.2,322.2 92.5,322.3 85.6,322.4 107.7,322.5 100.5,322.6 103.2,322.7 78.5,322.8 92.0,322.9 105.4,323.0 90.7,323.1 105.6,323.2 84.8,323.3 90.8,323.4 86.5,323.5 108.7,323.6 84.0,323.7 88.9,323.8 103.4,323.9 100.0,324.0 115.9,324.1 113.1,324.2 103.4,324.3 104.2,324.4 84.1,324.5 91.9,324.6 96.5,324.7 97.9,324.8 88.5,324.9 92.3,325.0 93.1,325.1 108.7,325.2 103.8,325.3 97.8,325.4 98.3,325.4 102.9,325.5 95.0,325.6 98.5,325.7 86.8,325.8 106.1,325.9 108.4,326.0 103.6,326.1 80.9,326.2 103.4,326.3 116.9,326.4 101.9,326.5 89.4,326.6 91.4,326.7 105.3,326.8 118.2,326.9 105.3,327.0 105.5,327.1 100.0,327.2 86.2,327.3 92.2,327.4 83.1,327.5 94.5,327.6 86.4,327.7 98.2,327.8 96.0,327.9 109.1,328.0 103.2,328.1 103.5,328.2 86.1,328.3 98.5,328.4 103.1,328.5 94.8,328.6 110.9,328.7 98.4,328.8 105.4,328.9 98.0,328.9 94.9,329.0 100.1,329.1 102.0,329.2 97.4,329.3 91.5,329.4 88.5,329.5 94.5,329.6 89.9,329.7 96.1,329.8 95.7,329.9 93.6,330.0 109.8,330.1 116.5,330.2 107.0,330.3 104.1,330.4 106.0,330.5 97.7,330.6 91.5,330.7 93.4,330.8 92.1,330.9 88.8,331.0 82.7,331.1 73.5,331.2 68.0,331.3 61.8,331.4 85.5,331.5 96.7,331.6 89.3,331.7 94.5,331.8 69.0,331.9 90.0,332.0 90.9,332.1 72.3,332.2 93.4,332.3 90.5,332.4 71.5,332.4 97.1,332.5 97.0,332.6 93.6,332.7 68.5,332.8 88.9,332.9 83.6,333.0 88.9,333.1 89.2,333.2 111.0,333.3 76.1,333.4 89.1,333.5 89.8,333.6 95.8,333.7 97.8,333.8 87.4,333.9 84.8,334.0 108.6,334.1 101.2,334.2 79.6,334.3 77.6,334.4 84.9,334.5 92.7,334.6 95.4,334.7 87.7,334.8 76.9,334.9 91.7,335.0 94.6,335.1 89.4,335.2 85.2,335.3 93.9,335.4 88.6,335.5 79.9,335.6 89.9,335.7 78.5,335.8 97.2,335.9 93.4,336.0 81.6,336.0 91.8,336.1 76.9,336.2 73.2,336.3 90.0,336.4 105.1,336.5 79.1,336.6 90.8,336.7 80.8,336.8 92.2,336.9 73.1,337.0 79.6,337.1 88.6,337.2 94.2,337.3 96.1,337.4 96.4,337.5 102.2,337.6 98.2,337.7 98.3,337.8 83.8,337.9 90.3,338.0 71.1,338.1 107.4,338.2 97.5,338.3 96.5,338.4 98.3,338.5 86.6,338.6 106.0,338.7 86.6,338.8 88.9,338.9 107.6,339.0 72.4,339.1 92.7,339.2 75.5,339.3 84.5,339.4 89.3,339.5 87.3,339.5 91.9,339.6 84.3,339.7 90.0,339.8 81.2,339.9 88.2,340.0 80.1,340.1 100.7,340.2 81.4,340.3 98.2,340.4 106.3,340.5 90.4,340.6 103.0,340.7 109.2,340.8 77.8,340.9 98.0,341.0 69.8,341.1 96.4,341.2 91.0,341.3 82.7,341.4 95.2,341.5 92.0,341.6 111.5,341.7 91.1,341.8 111.1,341.9 106.5,342.0 89.9,342.1 88.3,342.2 106.4,342.3 94.4,342.4 97.1,342.5 93.8,342.6 86.1,342.7 93.4,342.8 88.7,342.9 84.1,343.0 94.8,343.0 112.4,343.1 111.2,343.2 97.2,343.3 99.0,343.4 102.2,343.5 109.3,343.6 100.5,343.7 93.8,343.8 94.5,343.9 107.3,344.0 119.6,344.1 92.3,344.2 80.3,344.3 104.4,344.4 96.8,344.5 98.6,344.6 107.8,344.7 97.9,344.8 86.2,344.9 80.8,345.0 97.0,345.1 87.7,345.2 100.0,345.3 86.9,345.4 94.8,345.5 85.4,345.6 94.9,345.7 94.4,345.8 103.3,345.9 109.8,346.0 97.1,346.1 91.5,346.2 115.6,346.3 102.3,346.4 104.6,346.5 104.8,346.5 112.1,346.6 108.5,346.7 105.7,346.8 106.5,346.9 92.8,347.0 94.9,347.1 99.1,347.2 100.7,347.3 99.9,347.4 102.3,347.5 99.8,347.6 95.9,347.7 85.7,347.8 106.5,347.9 104.3,348.0 92.0,348.1 103.7,348.2 102.8,348.3 123.9,348.4 84.1,348.5 89.5,348.6 94.6,348.7 113.4,348.8 92.4,348.9 96.7,349.0 90.1,349.1 95.2,349.2 102.1,349.3 99.1,349.4 74.9,349.5 104.4,349.6 98.9,349.7 93.4,349.8 106.7,349.9 106.6,350.0 80.6,350.1 96.9,350.1 107.8,350.2 92.7,350.3 95.8,350.4 106.6,350.5 96.3,350.6 88.4,350.7 92.8,350.8 87.4,350.9 103.3,351.0 84.0,351.1 107.1,351.2 96.1,351.3 98.8,351.4 85.9,351.5 95.6,351.6 106.9,351.7 107.7,351.8 109.2,351.9 97.3,352.0 99.0,352.1 100.0,352.2 103.3,352.3 94.7,352.4 107.4,352.5 100.9,352.6 107.9,352.7 102.3,352.8 104.0,352.9 92.1,353.0 94.8,353.1 87.5,353.2 96.0,353.3 97.0,353.4 105.6,353.5 87.9,353.6 126.1,353.6 97.6,353.7 109.3,353.8 107.5,353.9 77.1,354.0 96.2,354.1 110.9,354.2 77.7,354.3 104.7,354.4 90.3,354.5 94.1,354.6 99.9,354.7 82.0,354.8 99.5,354.9 92.3,355.0 91.3,355.1 103.6,355.2 127.4,355.3 100.4,355.4 69.1,355.5 96.9,355.6 91.1,355.7 99.4,355.8 110.1,355.9 98.7,356.0 104.5,356.1 94.9,356.2 118.1,356.3 82.5,356.4 101.3,356.5 100.8,356.6 98.3,356.7 86.3,356.8 85.9,356.9 93.4,357.0 96.1,357.1 84.8,357.1 91.6,357.2 99.6,357.3 103.5,357.4 89.8,357.5 88.5,357.6 88.2,357.7 115.4,357.8 98.5,357.9 93.7,358.0 102.8,358.1 113.8,358.2 104.2,358.3 82.1,358.4 93.5,358.5 90.8,358.6 91.3,358.7 83.8,358.8 84.9,358.9 111.9,359.0 96.9,359.1 94.3,359.2 81.8,359.3 79.2,359.4 89.6,359.5 99.2,359.6 97.8,359.7 93.0,359.8 65.3,359.9 89.3,360.0 87.2,360.1 90.7,360.2 83.1,360.3 89.8,360.4 105.2,360.5 116.6,360.6 118.2,360.6 111.8,360.7 113.1,360.8 91.8,360.9 94.1,361.0 88.7,361.1 91.7,361.2 100.2,361.3 98.1,361.4 93.1,361.5 101.4,361.6 91.4,361.7 80.6,361.8 73.5,361.9 97.3,362.0 87.0,362.1 90.5,362.2 95.9,362.3 81.4,362.4 79.1,362.5 92.3,362.6 95.5,362.7 81.1,362.8 87.9,362.9 96.6,363.0 87.4,363.1 84.0,363.2 66.6,363.3 95.5,363.4 89.6,363.5 85.1,363.6 80.1,363.7 73.5,363.8 83.3,363.9 83.3,364.0 93.7,364.1 87.4,364.2 97.0,364.2 85.1,364.3 95.2,364.4 76.9,364.5 88.4,364.6 96.1,364.7 86.8,364.8 73.4,364.9 83.3,365.0 90.8,365.1 74.3,365.2 74.0,365.3 88.4,365.4 78.2,365.5 92.2,365.6 76.3,365.7 70.7,365.8 79.7,365.9 99.1,366.0 79.0,366.1 86.4,366.2 88.6,366.3 78.5,366.4 80.9,366.5 88.3,366.6 87.0,366.7 72.5,366.8 72.0,366.9 71.7,367.0 85.3,367.1 85.0,367.2 93.1,367.3 99.6,367.4 84.7,367.5 84.5,367.6 90.6,367.7 93.6,367.7 85.6,367.8 91.8,367.9 53.3,368.0 83.5,368.1 93.3,368.2 79.5,368.3 77.1,368.4 91.9,368.5 86.0,368.6 83.9,368.7 85.0,368.8 90.3,368.9 82.9,369.0 92.5,369.1 89.4,369.2 98.5,369.3 96.6,369.4 93.0,369.5 83.9,369.6 86.6,369.7 80.5,369.8 110.0,369.9 83.8,370.0 90.5,370.1 97.4,370.2 74.2,370.3 78.9,370.4 82.7,370.5 77.7,370.6 75.5,370.7 82.1,370.8 97.7,370.9 52.0,371.0 75.2,371.1 79.6,371.2 72.9,371.2 93.1,371.3 90.9,371.4 82.6,371.5 89.1,371.6 85.7,371.7 82.8,371.8 78.8,371.9 81.4,372.0 108.8,372.1 91.0,372.2 76.9,372.3 89.7,372.4 85.4,372.5 83.5,372.6 104.4,372.7 71.1,372.8 97.4,372.9 90.3,373.0 88.2,373.1 83.5,373.2 86.3,373.3 78.4,373.4 76.9,373.5 88.2,373.6 75.3,373.7 96.9,373.8 99.5,373.9 69.5,374.0 77.1,374.1 92.9,374.2 92.6,374.3 91.9,374.4 94.7,374.5 97.7,374.6 98.8,374.7 106.9,374.7 91.9,374.8 99.2,374.9 78.1,375.0 91.0,375.1 81.8,375.2 104.3,375.3 112.5,375.4 97.3,375.5 81.6,375.6 91.9,375.7 93.3,375.8 94.9,375.9 102.6,376.0 101.6,376.1 70.9,376.2 105.4,376.3 89.6,376.4 89.2,376.5 106.3,376.6 92.0,376.7 82.6,376.8 83.1,376.9 95.0,377.0 102.3,377.1 107.4,377.2 93.1,377.3 90.6,377.4 108.5,377.5 90.7,377.6 107.1,377.7 96.6,377.8 96.6,377.9 92.5,378.0 97.0,378.1 90.4,378.2 88.5,378.3 93.0,378.3 88.5,378.4 96.5,378.5 94.5,378.6 91.3,378.7 91.7,378.8 91.4,378.9 108.1,379.0 99.7,379.1 88.1,379.2 90.7,379.3 99.0,379.4 91.8,379.5 92.4,379.6 110.8,379.7 95.7,379.8 98.0,379.9 98.8,380.0 81.3,380.1 86.5,380.2 73.5,380.3 103.2,380.4 106.1,380.5 108.0,380.6 98.3,380.7 107.1,380.8 97.0,380.9 96.4,381.0 84.3,381.1 90.9,381.2 92.6,381.3 105.5,381.4 111.9,381.5 93.7,381.6 101.0,381.7 100.3,381.8 91.4,381.8 125.6,381.9 91.8,382.0 86.1,382.1 82.0,382.2 94.8,382.3 97.4,382.4 97.7,382.5 103.4,382.6 91.4,382.7 107.1,382.8 85.3,382.9 100.2,383.0 103.1,383.1 93.0,383.2 86.1,383.3 105.3,383.4 94.0,383.5 92.9,383.6 106.3,383.7 99.6,383.8 99.6,383.9 108.0,384.0 102.7,384.1 91.5,384.2 100.9,384.3 124.7,384.4 111.3,384.5 101.3,384.6 98.6,384.7 99.0,384.8 92.2,384.9 88.3,385.0 110.4,385.1 95.7,385.2 103.3,385.3 88.9,385.3 103.4,385.4 95.2,385.5 127.8,385.6 93.9,385.7 94.5,385.8 110.8,385.9 112.5,386.0 84.7,386.1 104.7,386.2 109.9,386.3 102.8,386.4 107.8,386.5 97.2,386.6 92.9,386.7 113.4,386.8 97.0,386.9 88.9,387.0 119.6,387.1 96.4,387.2 93.8,387.3 107.3,387.4 99.2,387.5 94.0,387.6 97.5,387.7 102.7,387.8 100.6,387.9 101.3,388.0 98.2,388.1 99.2,388.2 114.5,388.3 94.6,388.4 95.9,388.5 97.6,388.6 100.5,388.7 104.5,388.8 109.2,388.8 89.8,388.9 103.5,389.0 99.8,389.1 98.8,389.2 102.6,389.3 84.4,389.4 103.4,389.5 102.2,389.6 88.7,389.7 92.6,389.8 113.9,389.9 96.6,390.0 105.7,390.1 98.8,390.2 93.9,390.3 93.1,390.4 97.6,390.5 112.3,390.6 108.3,390.7 95.5,390.8 107.7,390.9 100.8,391.0 96.1,391.1 105.8,391.2 94.5,391.3 89.0,391.4 113.5,391.5 86.9,391.6 107.1,391.7 89.6,391.8 102.3,391.9 100.8,392.0 98.7,392.1 83.6,392.2 106.1,392.3 101.4,392.4 126.2,392.4 100.6,392.5 109.4,392.6 94.5,392.7 102.6,392.8 90.4,392.9 103.1,393.0 105.1,393.1 120.5,393.2 106.9,393.3 102.6,393.4 110.7,393.5 90.1,393.6 107.5,393.7 112.7,393.8 92.9,393.9 96.9,394.0 99.9,394.1 109.1,394.2 61.5,394.3 100.1,394.4 73.2,394.5 89.4,394.6 81.6,394.7 105.7,394.8 99.6,394.9 89.5,395.0 86.5,395.1 90.6,395.2 91.6,395.3 76.2,395.4 95.2,395.5 102.1,395.6 98.0,395.7 99.8,395.8 104.0,395.9 91.3,395.9 104.8,396.0 87.1,396.1 97.5,396.2 93.8,396.3 97.4,396.4 98.1,396.5 90.7,396.6 92.9,396.7 103.7,396.8 84.8,396.9 84.8,397.0 100.2,397.1 103.3,397.2 92.5,397.3 96.1,397.4 87.9,397.5 93.2,397.6 104.1,397.7 101.5,397.8 95.9,397.9 92.1,398.0 80.5,398.1 96.7,398.2 97.6,398.3 102.2,398.4 110.0,398.5 95.7,398.6 100.1,398.7 82.1,398.8 89.2,398.9 97.8,399.0 101.5,399.1 95.2,399.2 92.8,399.3 76.6,399.4 82.5,399.4 93.1,399.5 96.5,399.6 80.4,399.7 77.1,399.8 90.2,399.9 87.5,400.0 91.4,400.1 91.7,400.2 79.8,400.3 89.1,400.4 95.8,400.5 83.4,400.6 84.1,400.7 77.2,400.8 72.0,400.9 84.3,401.0 75.5,401.1 93.5,401.2 94.7,401.3 82.4,401.4 91.1,401.5 78.3,401.6 80.6,401.7 88.7,401.8 92.9,401.9 88.5,402.0 69.9,402.1 89.4,402.2 53.4,402.3 100.0,402.4 97.8,402.5 81.9,402.6 102.8,402.7 91.8,402.8 89.0,402.9 103.9,402.9 66.8,403.0 74.3,403.1 93.7,403.2 85.6,403.3 79.8,403.4 100.4,403.5 71.3,403.6 77.1,403.7 82.4,403.8 95.2,403.9 96.1,404.0 71.6,404.1 90.7,404.2 61.4,404.3 74.3,404.4 87.8,404.5 104.1,404.6 85.1,404.7 103.3,404.8 94.2,404.9 96.5,405.0 95.0,405.1 93.0,405.2 98.2,405.3 80.2,405.4 86.9,405.5 97.1,405.6 83.6,405.7 79.2,405.8 99.6,405.9 102.2,406.0 84.0,406.1 82.0,406.2 93.6,406.3 90.8,406.4 82.7,406.4 89.5,406.5 92.7,406.6 88.7,406.7 112.7,406.8 99.3,406.9 94.7,407.0 96.4,407.1 112.8,407.2 97.1,407.3 74.2,407.4 90.6,407.5 88.6,407.6 83.3,407.7 90.3,407.8 97.1,407.9 87.9,408.0 88.5,408.1 95.6,408.2 75.3,408.3 95.9,408.4 89.3,408.5 91.8,408.6 69.7,408.7 104.1,408.8 75.6,408.9 83.2,409.0 96.2,409.1 85.9,409.2 87.8,409.3 72.6,409.4 88.0,409.5 93.6,409.6 97.1,409.7 89.4,409.8 93.7,409.9 95.4,410.0 85.9,410.0 85.0,410.1 107.7,410.2 83.6,410.3 100.9,410.4 90.7,410.5 102.2,410.6 84.0,410.7 93.4,410.8 55.5,410.9 86.5,411.0 99.2,411.1 81.3,411.2 87.0,411.3 58.6,411.4 93.7,411.5 86.4,411.6 75.3,411.7 83.9,411.8 86.2,411.9 79.4,412.0 98.3,412.1 90.5,412.2 94.2,412.3 80.7,412.4 83.9,412.5 95.8,412.6 75.2,412.7 90.5,412.8 81.0,412.9 83.3,413.0 88.3,413.1 78.4,413.2 89.5,413.3 77.3,413.4 76.8,413.5 99.4,413.5 95.3,413.6 69.7,413.7 96.0,413.8 81.2,413.9 58.0,414.0 83.8,414.1 96.0,414.2 91.2,414.3 102.9,414.4 87.4,414.5 95.9,414.6 80.1,414.7 90.2,414.8 101.8,414.9 93.2,415.0 90.3,415.1 72.1,415.2 90.8,415.3 78.0,415.4 95.5,415.5 82.6,415.6 92.0,415.7 80.4,415.8 104.9,415.9 78.9,416.0 90.0,416.1 111.2,416.2 90.7,416.3 81.5,416.4 94.2,416.5 89.5,416.6 96.5,416.7 72.4,416.8 91.1,416.9 71.3,417.0 105.8,417.0 90.4,417.1 86.1,417.2 75.8,417.3 106.2,417.4 108.4,417.5 104.8,417.6 89.0,417.7 76.3,417.8 103.4,417.9 81.7,418.0 102.5,418.1 96.5,418.2 84.3,418.3 100.0,418.4 107.9,418.5 99.0,418.6 105.7,418.7 85.4,418.8 100.7,418.9 99.9,419.0 79.1,419.1 75.9,419.2 85.5,419.3 92.3,419.4 95.4,419.5 89.5,419.6 90.8,419.7 90.3,419.8 91.9,419.9 96.1,420.0 95.3,420.1 90.6,420.2 93.3,420.3 87.3,420.4 98.1,420.5 87.1,420.5 105.7,420.6 94.1,420.7 94.3,420.8 85.7,420.9 89.4,421.0 79.0,421.1 93.0,421.2 87.6,421.3 83.2,421.4 93.6,421.5 94.7,421.6 98.2,421.7 104.2,421.8 90.8,421.9 76.2,422.0 92.1,422.1 94.4,422.2 81.9,422.3 105.3,422.4 102.5,422.5 86.7,422.6 86.6,422.7 91.0,422.8 76.5,422.9 95.5,423.0 88.3,423.1 107.1,423.2 82.1,423.3 99.9,423.4 85.5,423.5 115.0,423.6 83.2,423.7 98.2,423.8 88.3,423.9 85.2,424.0 91.2,424.1 96.8,424.1 96.3,424.2 99.6,424.3 100.2,424.4 70.5,424.5 89.9,424.6 76.3,424.7 90.3,424.8 99.1,424.9 82.3,425.0 83.7,425.1 95.2,425.2 91.6,425.3 107.8,425.4 97.0,425.5 98.8,425.6 109.3,425.7 89.9,425.8 94.2,425.9 85.6,426.0 96.4,426.1 103.1,426.2 106.0,426.3 75.7,426.4 87.9,426.5 87.4,426.6 81.9,426.7 94.9,426.8 78.5,426.9 73.2,427.0 74.8,427.1 101.3,427.2 79.6,427.3 96.3,427.4 82.4,427.5 123.8,427.6 86.1,427.6 94.5,427.7 100.1,427.8 93.3,427.9 97.6,428.0 108.4,428.1 102.0,428.2 86.7,428.3 85.3,428.4 90.1,428.5 75.7,428.6 92.6,428.7 86.7,428.8 97.5,428.9 113.8,429.0 95.0,429.1 92.0,429.2 97.3,429.3 81.7,429.4 105.8,429.5 95.3,429.6 96.3,429.7 97.8,429.8 102.0,429.9 99.1,430.0 94.9,430.1 91.3,430.2 78.7,430.3 94.9,430.4 90.3,430.5 89.7,430.6 113.9,430.7 77.0,430.8 93.6,430.9 103.6,431.0 101.5,431.1 104.0,431.1 82.3,431.2 85.1,431.3 103.8,431.4 91.1,431.5 108.7,431.6 96.0,431.7 95.9,431.8 98.2,431.9 111.1,432.0 95.7,432.1 89.0,432.2 94.6,432.3 90.8,432.4 97.3,432.5 82.8,432.6 82.1,432.7 99.0,432.8 96.9,432.9 86.5,433.0 92.7,433.1 85.5,433.2 112.1,433.3 80.8,433.4 109.0,433.5 86.9,433.6 97.7,433.7 91.7,433.8 76.4,433.9 102.2,434.0 101.2,434.1 91.8,434.2 86.5,434.3 112.5,434.4 106.9,434.5 96.2,434.6 92.6,434.6 97.9,434.7 96.2,434.8 106.1,434.9 87.5,435.0 96.2,435.1 89.3,435.2 107.5,435.3 111.9,435.4 95.6,435.5 101.1,435.6 108.7,435.7 89.3,435.8 88.6,435.9 105.7,436.0 86.2,436.1 95.0,436.2 109.5,436.3 98.9,436.4 81.5,436.5 100.0,436.6 96.5,436.7 113.3,436.8 97.0,436.9 95.3,437.0 100.9,437.1 99.3,437.2 85.0,437.3 98.1,437.4 94.2,437.5 104.3,437.6 117.6,437.7 87.1,437.8 88.3,437.9 89.2,438.0 90.7,438.1 105.5,438.2 96.5,438.2 105.3,438.3 84.5,438.4 82.3,438.5 79.6,438.6 105.0,438.7 85.7,438.8 82.0,438.9 81.2,439.0 96.4,439.1 104.7,439.2 104.1,439.3 97.1,439.4 103.3,439.5 98.6,439.6 91.1,439.7 112.6,439.8 96.3,439.9 86.9,440.0 65.9,440.1 83.6,440.2 97.3,440.3 106.8,440.4 86.6,440.5 107.4,440.6 115.8,440.7 101.2,440.8 88.0,440.9 90.7,441.0 95.3,441.1 87.2,441.2 87.6,441.3 96.3,441.4 97.1,441.5 104.0,441.6 103.2,441.7 115.2,441.7 108.3,441.8 107.0,441.9 103.7,442.0 114.7,442.1 98.5,442.2 115.7,442.3 109.5,442.4 92.7,442.5 96.7,442.6 116.9,442.7 109.6,442.8 99.7,442.9 103.0,443.0 103.0,443.1 94.7,443.2 99.7,443.3 95.8,443.4 97.8,443.5 105.5,443.6 93.2,443.7 76.2,443.8 102.4,443.9 107.9,444.0 98.1,444.1 111.9,444.2 106.4,444.3 107.0,444.4 99.2,444.5 105.5,444.6 92.6,444.7 98.2,444.8 106.6,444.9 99.6,445.0 103.9,445.1 90.9,445.2 111.9,445.2 81.1,445.3 103.7,445.4 100.3,445.5 123.0,445.6 97.6,445.7 92.6,445.8 95.3,445.9 99.1,446.0 91.7,446.1 106.9,446.2 115.0,446.3 97.9,446.4 91.8,446.5 105.7,446.6 113.8,446.7 105.8,446.8 106.0,446.9 107.6,447.0 108.2,447.1 117.5,447.2 108.6,447.3 92.6,447.4 99.3,447.5 105.2,447.6 96.5,447.7 101.3,447.8 100.3,447.9 111.0,448.0 109.7,448.1 100.4,448.2 94.3,448.3 97.6,448.4 104.1,448.5 122.0,448.6 106.0,448.7 116.6,448.7 108.0,448.8 85.2,448.9 107.1,449.0 96.5,449.1 92.2,449.2 94.7,449.3 119.6,449.4 90.7,449.5 104.3,449.6 114.7,449.7 110.6,449.8 112.3,449.9 104.2,450.0 100.8,450.1 103.6,450.2 111.9,450.3 100.4,450.4 102.6,450.5 118.0,450.6 89.4,450.7 102.0,450.8 109.2,450.9 94.2,451.0 88.3,451.1 93.5,451.2 106.1,451.3 99.3,451.4 111.4,451.5 113.3,451.6 104.8,451.7 101.1,451.8 106.5,451.9 104.7,452.0 93.6,452.1 113.3,452.2 105.8,452.3 110.6,452.3 91.8,452.4 111.1,452.5 121.6,452.6 119.8,452.7 90.6,452.8 103.5,452.9 102.6,453.0 105.1,453.1 101.2,453.2 107.7,453.3 99.6,453.4 94.4,453.5 98.1,453.6 105.2,453.7 113.3,453.8 100.8,453.9 111.2,454.0 98.2,454.1 103.0,454.2 104.6,454.3 117.8,454.4 118.4,454.5 118.4,454.6 95.5,454.7 107.2,454.8 116.7,454.9 111.6,455.0 100.6,455.1 99.0,455.2 117.4,455.3 99.0,455.4 115.0,455.5 105.6,455.6 110.0,455.7 130.1,455.8 126.1,455.8 117.2,455.9 97.9,456.0 112.5,456.1 110.0,456.2 108.5,456.3 120.8,456.4 106.5,456.5 111.7,456.6 109.9,456.7 102.2,456.8 123.6,456.9 83.3,457.0 88.5,457.1 109.2,457.2 89.5,457.3 96.1,457.4 100.1,457.5 115.3,457.6 116.6,457.7 113.6,457.8 110.5,457.9 89.4,458.0 110.3,458.1 104.0,458.2 118.6,458.3 120.2,458.4 128.0,458.5 103.7,458.6 115.9,458.7 100.1,458.8 109.8,458.9 98.4,459.0 116.9,459.1 98.7,459.2 107.1,459.3 101.8,459.3 104.7,459.4 112.6,459.5 129.5,459.6 110.1,459.7 99.3,459.8 119.8,459.9 101.9,460.0 116.0,460.1 125.6,460.2 85.7,460.3 98.1,460.4 104.8,460.5 116.6,460.6 102.2,460.7 109.6,460.8 100.0,460.9 111.2,461.0 95.8,461.1 113.6,461.2 80.4,461.3 90.0,461.4 122.2,461.5 108.0,461.6 98.8,461.7 98.5,461.8 115.9,461.9 116.7,462.0 103.3,462.1 112.6,462.2 111.8,462.3 93.2,462.4 113.0,462.5 106.4,462.6 119.5,462.7 119.9,462.8 103.2,462.8 103.7,462.9 110.8,463.0 115.1,463.1 105.9,463.2 108.7,463.3 115.1,463.4 113.5,463.5 120.0,463.6 109.6,463.7 102.2,463.8 94.5,463.9 116.9,464.0 106.8,464.1 106.6,464.2 106.9,464.3 95.6,464.4 105.7,464.5 127.9,464.6 105.1,464.7 100.6,464.8 124.2,464.9 111.8,465.0 105.9,465.1 109.0,465.2 113.8,465.3 100.7,465.4 96.9,465.5 104.1,465.6 128.9,465.7 107.9,465.8 90.2,465.9 114.4,466.0 111.3,466.1 111.1,466.2 138.4,466.3 107.7,466.3 117.2,466.4 103.8,466.5 106.6,466.6 98.5,466.7 100.2,466.8 90.9,466.9 119.9,467.0 100.0,467.1 99.3,467.2 113.2,467.3 104.7,467.4 113.0,467.5 109.6,467.6 106.2,467.7 126.2,467.8 111.0,467.9 126.3,468.0 99.2,468.1 103.2,468.2 104.0,468.3 122.8,468.4 123.6,468.5 156.6,468.6 119.1,468.7 111.9,468.8 120.5,468.9 111.9,469.0 114.1,469.1 108.1,469.2 110.4,469.3 126.9,469.4 99.6,469.5 109.9,469.6 114.1,469.7 117.7,469.8 125.0,469.9 103.1,469.9 84.1,470.0 113.6,470.1 113.3,470.2 92.9,470.3 105.3,470.4 94.5,470.5 86.8,470.6 113.0,470.7 110.9,470.8 109.1,470.9 97.8,471.0 100.9,471.1 101.8,471.2 111.8,471.3 99.1,471.4 91.0,471.5 111.6,471.6 89.3,471.7 123.6,471.8 110.4,471.9 104.4,472.0 110.3,472.1 93.4,472.2 111.3,472.3 88.0,472.4 100.6,472.5 121.7,472.6 120.6,472.7 106.3,472.8 100.6,472.9 61.5,473.0 108.2,473.1 110.3,473.2 113.7,473.3 98.5,473.4 114.8,473.4 89.0,473.5 120.4,473.6 93.6,473.7 104.0,473.8 101.7,473.9 114.1,474.0 114.4,474.1 84.9,474.2 104.5,474.3 112.7,474.4 108.1,474.5 92.1,474.6 88.8,474.7 89.0,474.8 107.8,474.9 107.4,475.0 108.2,475.1 111.4,475.2 107.2,475.3 100.3,475.4 95.7,475.5 92.0,475.6 119.3,475.7 116.4,475.8 96.2,475.9 105.6,476.0 111.7,476.1 121.8,476.2 102.2,476.3 108.9,476.4 117.5,476.5 91.8,476.6 100.7,476.7 106.8,476.8 100.7,476.9 125.8,476.9 114.7,477.0 108.8,477.1 98.5,477.2 114.7,477.3 112.6,477.4 102.4,477.5 103.0,477.6 93.9,477.7 106.1,477.8 84.8,477.9 89.9,478.0 126.0,478.1 113.9,478.2 101.4,478.3 96.9,478.4 117.3,478.5 110.8,478.6 99.9,478.7 111.5,478.8 114.6,478.9 113.8,479.0 108.7,479.1 103.4,479.2 111.7,479.3 107.4,479.4 109.9,479.5 102.9,479.6 112.0,479.7 98.2,479.8 111.2,479.9 106.6,480.0 117.8,480.1 110.3,480.2 118.6,480.3 129.6,480.4 107.3,480.4 101.8,480.5 113.0,480.6 108.0,480.7 109.9,480.8 103.1,480.9 113.0,481.0 101.9,481.1 88.4,481.2 105.0,481.3 109.7,481.4 116.7,481.5 100.9,481.6 98.5,481.7 115.3,481.8 99.5,481.9 105.5,482.0 108.5,482.1 110.6,482.2 104.0,482.3 94.0,482.4 112.6,482.5 99.8,482.6 99.0,482.7 121.2,482.8 111.2,482.9 94.1,483.0 99.1,483.1 101.1,483.2 115.6,483.3 86.2,483.4 109.9,483.5 109.6,483.6 104.7,483.7 98.9,483.8 104.2,483.9 107.8,484.0 93.0,484.0 99.2,484.1 97.2,484.2 108.2,484.3 104.4,484.4 120.8,484.5 96.7,484.6 116.0,484.7 93.7,484.8 110.2,484.9 110.4,485.0 113.2,485.1 101.8,485.2 82.6,485.3 92.2,485.4 100.4,485.5 109.9,485.6 108.6,485.7 91.2,485.8 116.5,485.9 100.7,486.0 93.7,486.1 104.1,486.2 97.6,486.3 123.1,486.4 93.3,486.5 102.2,486.6 98.6,486.7 88.0,486.8 96.2,486.9 98.4,487.0 113.4,487.1 107.6,487.2 108.3,487.3 104.5,487.4 89.4,487.5 100.0,487.5 94.2,487.6 105.8,487.7 79.0,487.8 99.4,487.9 108.4,488.0 98.8,488.1 113.2,488.2 108.4,488.3 103.2,488.4 98.6,488.5 121.7,488.6 96.1,488.7 98.3,488.8 108.3,488.9 106.9,489.0 119.4,489.1 99.3,489.2 85.1,489.3 107.1,489.4 112.1,489.5 99.6,489.6 114.4,489.7 90.5,489.8 94.7,489.9 95.2,490.0 89.4,490.1 80.8,490.2 87.6,490.3 105.3,490.4 131.1,490.5 93.4,490.6 87.6,490.7 86.1,490.8 88.5,490.9 86.5,491.0 98.7,491.0 104.1,491.1 105.9,491.2 100.4,491.3 87.7,491.4 100.6,491.5 105.7,491.6 98.3,491.7 101.4,491.8 98.4,491.9 96.6,492.0 101.6,492.1 91.7,492.2 110.6,492.3 88.0,492.4 105.5,492.5 89.7,492.6 114.6,492.7 109.0,492.8 94.3,492.9 97.3,493.0 91.3,493.1 100.4,493.2 104.3,493.3 122.7,493.4 88.5,493.5 92.2,493.6 95.0,493.7 102.3,493.8 107.4,493.9 104.4,494.0 103.2,494.1 97.7,494.2 99.2,494.3 100.4,494.4 109.3,494.5 86.0,494.5 94.3,494.6 87.5,494.7 89.7,494.8 107.1,494.9 107.0,495.0 115.9,495.1 100.6,495.2 86.8,495.3 97.5,495.4 87.0,495.5 100.7,495.6 107.9,495.7 108.6,495.8 104.7,495.9 96.1,496.0 80.7,496.1 80.8,496.2 83.8,496.3 103.5,496.4 109.8,496.5 96.1,496.6 100.0,496.7 101.8,496.8 82.2,496.9 99.4,497.0 90.7,497.1 120.5,497.2 103.8,497.3 103.6,497.4 89.4,497.5 100.2,497.6 85.4,497.7 82.8,497.8 97.9,497.9 96.0,498.0 104.4,498.1 111.7,498.1 98.8,498.2 114.2,498.3 93.4,498.4 86.8,498.5 87.0,498.6 98.7,498.7 94.7,498.8 95.4,498.9 102.1,499.0 80.6,499.1 97.8,499.2 89.7,499.3 97.7,499.4 100.1,499.5 93.7,499.6 93.8,499.7 87.2,499.8 102.1,499.9 91.8,500.0 101.6,500.1 85.8,500.2 110.1,500.3 89.8,500.4 108.8,500.5 95.3,500.6 104.0,500.7 98.3,500.8 105.6,500.9 100.0,501.0 111.0,501.1 106.0,501.2 106.1,501.3 114.6,501.4 94.3,501.5 111.4,501.6 100.7,501.6 87.3,501.7 103.9,501.8 97.8,501.9 113.8,502.0 94.9,502.1 99.3,502.2 100.7,502.3 82.1,502.4 102.6,502.5 89.6,502.6 110.1,502.7 112.2,502.8 95.7,502.9 84.3,503.0 99.5,503.1 99.6,503.2 104.4,503.3 95.8,503.4 101.2,503.5 97.4,503.6 68.9,503.7 114.2,503.8 93.1,503.9 93.7,504.0 99.0,504.1 88.9,504.2 95.8,504.3 98.5,504.4 95.5,504.5 97.5,504.6 110.3,504.7 103.2,504.8 87.9,504.9 95.6,505.0 105.4,505.1 93.2,505.1 87.6,505.2 97.9,505.3 102.4,505.4 95.9,505.5 95.9,505.6 89.4,505.7 99.5,505.8 103.7,505.9 110.6,506.0 95.4,506.1 93.4,506.2 101.9,506.3 94.3,506.4 95.7,506.5 94.5,506.6 89.3,506.7 87.0,506.8 58.7,506.9 106.7,507.0 89.5,507.1 91.4,507.2 91.0,507.3 100.8,507.4 111.7,507.5 86.8,507.6 99.3,507.7 95.5,507.8 91.8,507.9 98.6,508.0 83.3,508.1 101.2,508.2 95.9,508.3 85.4,508.4 107.5,508.5 101.1,508.6 103.8,508.6 81.5,508.7 53.0,508.8 89.6,508.9 99.5,509.0 105.9,509.1 78.3,509.2 94.9,509.3 93.8,509.4 103.6,509.5 95.0,509.6 88.4,509.7 94.0,509.8 87.0,509.9 89.3,510.0 96.4,510.1 92.0,510.2 98.6,510.3 83.4,510.4 84.8,510.5 86.1,510.6 102.6,510.7 85.6,510.8 78.3,510.9 89.5,511.0 94.9,511.1 116.0,511.2 108.2,511.3 92.7,511.4 107.5,511.5 107.7,511.6 97.4,511.7 107.7,511.8 100.1,511.9 96.4,512.0 87.2,512.1 96.1,512.2 111.4,512.2 85.5,512.3 83.3,512.4 101.6,512.5 73.8,512.6 112.5,512.7 93.2,512.8 103.3,512.9 112.9,513.0 84.8,513.1 88.4,513.2 116.5,513.3 95.1,513.4 96.6,513.5 99.7,513.6 106.9,513.7 109.2,513.8 99.0,513.9 95.2,514.0 97.8,514.1 100.7,514.2 109.2,514.3 99.2,514.4 113.5,514.5 90.7,514.6 102.5,514.7 83.6,514.8 108.9,514.9 100.8,515.0 90.4,515.1 91.8,515.2 96.4,515.3 100.3,515.4 95.4,515.5 85.1,515.6 91.0,515.7 101.5,515.7 103.9,515.8 84.7,515.9 86.1,516.0 82.0,516.1 91.3,516.2 126.0,516.3 96.3,516.4 92.7,516.5 90.5,516.6 85.1,516.7 79.5,516.8 106.2,516.9 92.8,517.0 102.5,517.1 105.8,517.2 98.8,517.3 106.6,517.4 78.6,517.5 100.8,517.6 81.7,517.7 99.8,517.8 108.0,517.9 100.2,518.0 98.1,518.1 89.9,518.2 98.3,518.3 105.5,518.4 94.4,518.5 94.8,518.6 99.4,518.7 91.6,518.8 82.3,518.9 96.7,519.0 90.5,519.1 100.6,519.2 105.4,519.2 99.4,519.3 107.9,519.4 88.9,519.5 94.1,519.6 89.4,519.7 98.6,519.8 99.3,519.9 97.1,520.0 88.7,520.1 98.6,520.2 95.7,520.3 104.6,520.4 97.3,520.5 109.5,520.6 101.6,520.7 83.9,520.8 98.1,520.9 91.5,521.0 107.8,521.1 113.2,521.2 99.5,521.3 103.6,521.4 87.7,521.5 81.1,521.6 95.6,521.7 98.4,521.8 87.9,521.9 123.7,522.0 103.7,522.1 106.7,522.2 114.5,522.3 108.4,522.4 98.5,522.5 102.6,522.6 106.9,522.7 132.3,522.7 113.2,522.8 109.7,522.9 100.2,523.0 96.8,523.1 134.5,523.2 109.4,523.3 110.3,523.4 117.6,523.5 110.6,523.6 104.1,523.7 108.2,523.8 94.4,523.9 108.1,524.0 84.9,524.1 105.3,524.2 106.3,524.3 88.3,524.4 117.6,524.5 91.5,524.6 110.0,524.7 96.6,524.8 103.6,524.9 95.4,525.0 122.2,525.1 109.9,525.2 116.6,525.3 108.0,525.4 107.4,525.5 103.0,525.6 99.8,525.7 107.0,525.8 103.3,525.9 100.8,526.0 90.4,526.1 99.5,526.2 107.3,526.2 98.2,526.3 105.1,526.4 100.9,526.5 93.3,526.6 94.3,526.7 95.6,526.8 99.3,526.9 99.4,527.0 111.0,527.1 92.2,527.2 96.7,527.3 106.9,527.4 97.1,527.5 99.8,527.6 122.3,527.7 113.0,527.8 105.5,527.9 108.4,528.0 101.3,528.1 99.5,528.2 95.0,528.3 94.0,528.4 96.0,528.5 113.2,528.6 112.9,528.7 94.5,528.8 96.1,528.9 98.1,529.0 108.4,529.1 96.5,529.2 107.2,529.3 80.5,529.4 96.5,529.5 98.7,529.6 100.2,529.7 93.9,529.8 87.3,529.8 113.2,529.9 95.5,530.0 132.1,530.1 121.7,530.2 75.3,530.3 93.9,530.4 110.7,530.5 85.5,530.6 96.8,530.7 84.1,530.8 96.3,530.9 103.1,531.0 103.0,531.1 92.4,531.2 114.6,531.3 109.6,531.4 96.2,531.5 90.1,531.6 100.5,531.7 86.9,531.8 117.2,531.9 100.5,532.0 103.4,532.1 104.1,532.2 119.6,532.3 97.9,532.4 112.7,532.5 105.3,532.6 101.5,532.7 86.5,532.8 82.9,532.9 96.4,533.0 96.3,533.1 104.4,533.2 103.2,533.3 111.8,533.3 96.5,533.4 113.1,533.5 104.3,533.6 102.1,533.7 107.6,533.8 99.7,533.9 112.0,534.0 95.8,534.1 89.7,534.2 101.6,534.3 112.0,534.4 97.6,534.5 96.7,534.6 99.1,534.7 103.5,534.8 100.5,534.9 104.6,535.0 87.3,535.1 114.5,535.2 106.6,535.3 94.2,535.4 112.9,535.5 126.0,535.6 113.3,535.7 90.7,535.8 114.5,535.9 100.7,536.0 82.7,536.1 106.3,536.2 97.3,536.3 91.2,536.4 97.9,536.5 83.3,536.6 104.7,536.7 98.1,536.8 112.9,536.8 112.2,536.9 100.7,537.0 120.0,537.1 92.9,537.2 100.8,537.3 110.6,537.4 84.5,537.5 93.5,537.6 110.4,537.7 103.4,537.8 103.0,537.9 121.1,538.0 93.5,538.1 52.5,538.2 89.2,538.3 101.8,538.4 109.5,538.5 114.1,538.6 94.0,538.7 125.3,538.8 111.4,538.9 103.8,539.0 125.6,539.1 106.6,539.2 97.2,539.3 108.1,539.4 88.6,539.5 117.4,539.6 112.4,539.7 100.4,539.8 108.8,539.9 107.9,540.0 119.4,540.1 97.6,540.2 91.7,540.3 85.2,540.3 99.7,540.4 88.7,540.5 100.3,540.6 105.1,540.7 97.8,540.8 93.5,540.9 111.5,541.0 99.7,541.1 103.4,541.2 109.5,541.3 90.6,541.4 99.5,541.5 122.9,541.6 100.7,541.7 93.4,541.8 100.2,541.9 97.6,542.0 127.6,542.1 99.2,542.2 86.7,542.3 102.5,542.4 107.1,542.5 87.8,542.6 89.7,542.7 108.8,542.8 98.1,542.9 111.9,543.0 103.9,543.1 89.2,543.2 105.4,543.3 84.8,543.4 87.9,543.5 110.6,543.6 117.9,543.7 99.4,543.8 105.8,543.9 102.5,543.9 106.7,544.0 78.7,544.1 97.0,544.2 124.7,544.3 104.7,544.4 94.6,544.5 108.1,544.6 110.6,544.7 102.1,544.8 99.7,544.9 115.5,545.0 102.9,545.1 111.7,545.2 73.0,545.3 97.7,545.4 126.4,545.5 94.7,545.6 109.5,545.7 102.8,545.8 103.2,545.9 104.4,546.0 103.2,546.1 98.6,546.2 90.6,546.3 93.8,546.4 99.8,546.5 101.8,546.6 95.1,546.7 94.6,546.8 109.4,546.9 93.9,547.0 99.7,547.1 95.1,547.2 90.6,547.3 85.1,547.4 93.4,547.4 91.1,547.5 105.1,547.6 88.3,547.7 94.4,547.8 103.2,547.9 96.6,548.0 101.4,548.1 104.0,548.2 82.8,548.3 95.7,548.4 88.1,548.5 107.2,548.6 94.7,548.7 99.7,548.8 109.6,548.9 92.5,549.0 96.1,549.1 99.1,549.2 93.6,549.3 106.6,549.4 103.2,549.5 105.1,549.6 97.5,549.7 94.5,549.8 94.7,549.9 94.9,550.0 84.4,550.1 101.3,550.2 104.0,550.3 98.3,550.4 85.4,550.5 98.6,550.6 100.1,550.7 100.8,550.8 112.9,550.9 90.8,550.9 100.9,551.0 103.6,551.1 98.5,551.2 95.9,551.3 89.3,551.4 92.9,551.5 126.2,551.6 109.9,551.7 92.4,551.8 103.7,551.9 102.0,552.0 106.0,552.1 99.5,552.2 100.9,552.3 104.5,552.4 87.2,552.5 97.1,552.6 81.9,552.7 80.0,552.8 89.3,552.9 83.2,553.0 99.9,553.1 103.8,553.2 92.9,553.3 114.9,553.4 78.9,553.5 93.0,553.6 96.3,553.7 98.0,553.8 91.3,553.9 88.6,554.0 90.8,554.1 101.7,554.2 91.7,554.3 105.2,554.4 95.8,554.4 91.0,554.5 85.6,554.6 89.7,554.7 99.4,554.8 99.5,554.9 94.2,555.0 112.3,555.1 96.1,555.2 97.9,555.3 82.0,555.4 109.1,555.5 83.8,555.6 99.0,555.7 82.2,555.8 98.6,555.9 91.8,556.0 98.8,556.1 103.0,556.2 89.3,556.3 97.1,556.4 102.4,556.5 96.3,556.6 92.1,556.7 85.8,556.8 88.7,556.9 74.8,557.0 101.5,557.1 93.9,557.2 82.8,557.3 92.3,557.4 81.5,557.5 64.8,557.6 101.2,557.7 100.7,557.8 78.9,557.9 84.9,558.0 92.3,558.0 87.4,558.1 83.5,558.2 86.2,558.3 88.4,558.4 85.8,558.5 92.1,558.6 88.5,558.7 84.1,558.8 79.2,558.9 76.7,559.0 102.0,559.1 76.0,559.2 89.4,559.3 92.8,559.4 93.4,559.5 92.1,559.6 100.3,559.7 88.8,559.8 89.5,559.9 91.3,560.0 86.2,560.1 85.6,560.2 101.1,560.3 85.0,560.4 87.1,560.5 89.0,560.6 89.7,560.7 93.0,560.8 90.2,560.9 95.1,561.0 93.4,561.1 96.3,561.2 100.8,561.3 85.9,561.4 106.3,561.5 89.3,561.5 98.5,561.6 94.5,561.7 90.8,561.8 77.4,561.9 106.4,562.0 68.4,562.1 87.0,562.2 101.9,562.3 93.9,562.4 108.6,562.5 106.8,562.6 98.8,562.7 95.1,562.8 99.1,562.9 82.2,563.0 94.2,563.1 75.9,563.2 88.9,563.3 94.7,563.4 80.8,563.5 99.8,563.6 102.9,563.7 82.1,563.8 93.8,563.9 105.1,564.0 96.0,564.1 84.2,564.2 84.5,564.3 99.3,564.4 107.0,564.5 83.3,564.6 92.2,564.7 81.4,564.8 89.2,564.9 93.7,565.0 90.7,565.0 85.2,565.1 107.5,565.2 64.2,565.3 88.6,565.4 98.8,565.5 89.8,565.6 88.0,565.7 84.3,565.8 81.1,565.9 95.4,566.0 97.6,566.1 94.6,566.2 87.9,566.3 89.3,566.4 75.6,566.5 88.3,566.6 91.7,566.7 96.4,566.8 90.6,566.9 86.3,567.0 82.8,567.1 84.7,567.2 90.8,567.3 99.6,567.4 90.1,567.5 86.3,567.6 89.7,567.7 87.0,567.8 89.4,567.9 87.9,568.0 79.3,568.1 82.8,568.2 96.5,568.3 92.5,568.4 94.6,568.5 103.0,568.5 85.6,568.6 103.3,568.7 97.4,568.8 88.7,568.9 106.4,569.0 83.2,569.1 85.6,569.2 100.3,569.3 97.9,569.4 93.1,569.5 77.6,569.6 92.3,569.7 108.4,569.8 114.9,569.9 105.6,570.0 95.6,570.1 85.9,570.2 97.4,570.3 85.4,570.4 96.4,570.5 106.5,570.6 91.8,570.7 97.1,570.8 92.7,570.9 90.9,571.0 107.9,571.1 100.5,571.2 93.6,571.3 90.1,571.4 97.9,571.5 101.1,571.6 103.6,571.7 108.7,571.8 100.7,571.9 100.7,572.0 113.4,572.1 106.5,572.1 104.0,572.2 108.1,572.3 85.6,572.4 94.6,572.5 93.5,572.6 107.1,572.7 88.4,572.8 95.3,572.9 110.1,573.0 103.3,573.1 95.2,573.2 113.4,573.3 88.0,573.4 102.3,573.5 97.0,573.6 107.3,573.7 96.9,573.8 92.6,573.9 101.0,574.0 89.1,574.1 103.7,574.2 86.8,574.3 106.9,574.4 96.2,574.5 94.5,574.6 102.9,574.7 109.4,574.8 83.6,574.9 100.7,575.0 104.6,575.1 88.6,575.2 92.8,575.3 104.6,575.4 93.2,575.5 84.7,575.6 112.8,575.6 92.2,575.7 92.7,575.8 81.4,575.9 108.2,576.0 89.6,576.1 106.6,576.2 126.0,576.3 88.9,576.4 113.4,576.5 104.1,576.6 96.7,576.7 104.1,576.8 100.7,576.9 93.7,577.0 84.2,577.1 82.3,577.2 97.4,577.3 94.8,577.4 101.1,577.5 104.9,577.6 89.5,577.7 104.3,577.8 94.0,577.9 98.6,578.0 89.4,578.1 97.8,578.2 92.1,578.3 90.8,578.4 97.9,578.5 97.8,578.6 104.4,578.7 100.4,578.8 90.8,578.9 93.9,579.0 80.1,579.1 90.4,579.1 108.4,579.2 110.1,579.3 104.7,579.4 101.4,579.5 103.5,579.6 102.9,579.7 86.6,579.8 93.0,579.9 108.2,580.0 108.2,580.1 101.3,580.2 97.4,580.3 86.4,580.4 118.6,580.5 93.2,580.6 86.1,580.7 101.5,580.8 97.4,580.9 99.4,581.0 113.7,581.1 105.9,581.2 96.9,581.3 126.0,581.4 107.2,581.5 110.4,581.6 105.0,581.7 101.9,581.8 107.5,581.9 113.9,582.0 93.7,582.1 106.4,582.2 118.5,582.3 103.3,582.4 113.8,582.5 98.1,582.6 105.5,582.6 98.2,582.7 107.2,582.8 100.7,582.9 97.9,583.0 113.8,583.1 105.2,583.2 88.5,583.3 101.4,583.4 96.7,583.5 94.7,583.6 99.4,583.7 100.2,583.8 104.0,583.9 98.3,584.0 90.9,584.1 102.8,584.2 110.3,584.3 94.7,584.4 108.7,584.5 107.6,584.6 101.3,584.7 106.7,584.8 99.4,584.9 101.9,585.0 97.7,585.1 85.7,585.2 114.5,585.3 100.4,585.4 113.6,585.5 90.7,585.6 99.5,585.7 98.8,585.8 117.8,585.9 102.1,586.0 111.7,586.1 92.4,586.1 107.4,586.2 110.6,586.3 106.5,586.4 88.2,586.5 108.1,586.6 112.4,586.7 115.9,586.8 117.3,586.9 95.4,587.0 105.5,587.1 110.9,587.2 101.3,587.3 110.7,587.4 103.7,587.5 107.6,587.6 112.1,587.7 102.2,587.8 126.0,587.9 108.1,588.0 109.4,588.1 102.1,588.2 107.5,588.3 105.4,588.4 97.4,588.5 97.0,588.6 109.2,588.7 106.7,588.8 89.9,588.9 93.2,589.0 105.5,589.1 123.2,589.2 111.8,589.3 99.7,589.4 111.9,589.5 106.1,589.6 104.8,589.7 107.3,589.7 114.7,589.8 111.8,589.9 114.0,590.0 103.5,590.1 106.1,590.2 100.4,590.3 104.0,590.4 104.9,590.5 104.3,590.6 111.9,590.7 109.9,590.8 112.0,590.9 107.8,591.0 114.0,591.1 107.8,591.2 106.5,591.3 110.6,591.4 112.3,591.5 107.4,591.6 100.1,591.7 99.0,591.8 121.1,591.9 111.3,592.0 111.9,592.1 107.4,592.2 106.5,592.3 126.0,592.4 88.3,592.5 109.5,592.6 109.7,592.7 102.9,592.8 102.1,592.9 105.7,593.0 126.0,593.1 107.1,593.2 115.3,593.2 125.6,593.4 67.0,596.3 92.0,596.5 70.0,597.3 93.0,597.6 68.0,598.2 85.0,598.4 62.0,599.2 80.0,599.0 58.1,600.0 76.0,599.6" fill="none" stroke="#000" stroke-width="0.9" stroke-linejoin="miter" stroke-miterlimit="2"/><path d="M218.6,48.6 C219.1,48.9 221.7,49.6 221.7,50.2 C221.7,50.8 219.4,51.7 218.6,52.3 C217.8,52.9 216.6,53.4 216.6,53.9 C216.6,54.4 215.9,54.5 218.6,55.3 C221.3,56.0 228.8,57.4 232.9,58.4 C237.0,59.4 240.0,60.5 243.1,61.5 C246.2,62.5 250.1,63.2 251.3,64.1 C252.5,64.9 250.6,65.8 250.3,66.6 C250.0,67.3 250.2,67.9 249.3,68.6 C248.5,69.3 248.3,70.0 245.2,70.7 C242.1,71.5 235.0,72.1 230.9,73.1 C226.8,74.0 223.3,75.3 220.7,76.4 C218.1,77.5 215.8,78.8 215.5,79.9 C215.2,81.0 216.5,82.1 218.6,82.9 C220.7,83.7 226.1,83.8 227.8,84.6 C229.5,85.4 228.1,86.8 228.8,88.0 C229.5,89.2 232.1,90.6 231.9,92.1 C231.7,93.6 230.4,95.5 227.8,96.8 C225.2,98.1 219.0,99.0 216.6,99.7 C214.2,100.5 213.5,100.4 213.5,101.3 C213.5,102.2 216.6,103.8 216.6,105.0 C216.6,106.2 213.7,107.6 213.5,108.5 C213.3,109.4 214.1,109.7 215.5,110.5 C216.9,111.3 220.5,112.6 221.7,113.6 C222.9,114.6 222.5,115.2 222.7,116.6 C222.9,117.9 222.2,120.3 222.7,121.7 C223.2,123.1 222.4,123.6 225.8,124.8 C229.2,126.0 237.2,127.7 243.1,128.9 C249.0,130.1 254.3,131.0 261.5,132.0 C268.7,133.0 282.7,134.0 286.1,135.0 C289.5,136.0 283.0,137.2 282.0,138.1 C281.0,138.9 283.0,139.2 279.9,140.1 C276.8,140.9 269.1,142.3 263.6,143.2 C258.2,144.1 252.6,144.5 247.2,145.3 C241.8,146.1 235.7,147.1 230.9,147.9 C226.1,148.8 221.2,149.5 218.6,150.4 C216.0,151.3 215.5,152.4 215.5,153.4 C215.5,154.4 216.7,155.7 218.6,156.5 C220.5,157.3 225.3,157.7 226.8,158.5 C228.3,159.3 228.3,160.8 227.8,161.6 C227.3,162.4 224.0,162.8 223.7,163.6 C223.4,164.4 225.8,165.5 225.8,166.7 C225.8,167.9 224.4,169.4 223.7,170.8 C223.0,172.2 221.7,173.5 221.7,174.9 C221.7,176.3 224.4,177.5 223.7,179.2 C223.0,180.9 220.3,183.2 217.6,185.3 C214.9,187.4 207.6,189.4 207.4,191.5 C207.2,193.6 212.7,195.9 216.6,197.6 C220.5,199.3 227.2,199.8 230.9,201.7 C234.6,203.6 235.6,207.3 239.0,208.8 C242.4,210.3 246.0,210.1 251.3,210.9 C256.6,211.8 268.3,212.9 270.7,213.9 C273.1,214.9 264.8,216.2 265.6,217.0 C266.5,217.8 270.0,218.2 275.8,219.0 C281.6,219.8 292.7,221.2 300.4,222.1 C308.1,223.0 321.1,223.4 321.8,224.2 C322.5,225.0 310.3,226.0 304.4,226.8 C298.4,227.7 289.5,228.0 286.1,229.3 C282.7,230.6 289.8,233.2 284.0,234.4 C278.2,235.6 259.7,235.7 251.3,236.4 C243.0,237.1 238.0,237.5 233.9,238.5 C229.8,239.5 228.0,241.4 226.8,242.6 C225.6,243.8 228.3,244.6 226.8,245.6 C225.3,246.6 218.4,247.7 217.6,248.7 C216.8,249.7 221.4,250.5 221.7,251.7 C222.0,252.9 221.5,254.2 219.6,255.8 C217.7,257.4 211.4,259.3 210.4,261.0 C209.4,262.7 213.8,264.1 213.5,266.1 C213.2,268.1 207.2,271.0 208.4,273.2 C209.6,275.4 215.6,277.6 220.7,279.3 C225.8,281.0 235.9,282.2 239.0,283.4 C242.1,284.6 237.1,285.5 239.0,286.5 C240.9,287.5 249.6,288.6 250.3,289.6 C251.0,290.6 244.6,291.8 243.1,292.6 C241.6,293.5 245.5,293.7 241.1,294.7 C236.7,295.7 220.9,297.6 216.6,298.8 C212.3,300.0 216.2,300.8 215.5,302.0 C214.8,303.2 211.6,304.4 212.5,306.1 C213.4,307.8 218.8,310.6 220.7,312.3 C222.6,314.0 222.0,315.1 223.7,316.3 C225.4,317.5 227.5,318.4 230.9,319.4 C234.3,320.4 242.8,321.1 244.2,322.5 C245.5,323.9 237.7,325.9 239.0,327.6 C240.3,329.3 254.3,331.0 252.3,332.7 C250.3,334.4 230.5,336.3 226.8,337.8 C223.1,339.3 229.7,340.4 229.9,341.9 C230.1,343.4 224.6,345.6 227.8,347.0 C231.0,348.4 242.0,348.9 249.3,350.1 C256.6,351.3 266.2,352.5 271.7,354.2 C277.1,355.9 282.7,358.6 282.0,360.3 C281.3,362.0 275.9,362.9 267.7,364.4 C259.5,365.9 237.7,367.7 232.9,369.1 C228.1,370.5 238.5,371.5 239.0,372.6 C239.5,373.7 235.3,374.2 236.0,375.6 C236.7,377.0 237.8,379.2 243.1,380.7 C248.4,382.2 266.2,383.0 267.7,384.4 C269.2,385.8 252.0,387.7 252.3,389.3 C252.6,390.9 263.4,392.6 269.7,394.0 C276.0,395.4 287.7,396.5 290.1,397.5 C292.5,398.5 284.7,398.8 284.0,400.1 C283.3,401.4 287.5,403.9 286.1,405.3 C284.7,406.7 283.3,407.1 275.8,408.3 C268.3,409.5 251.3,411.0 241.1,412.4 C230.9,413.8 218.9,415.8 214.5,416.5" fill="none" stroke="#000" stroke-width="1.15"/><polyline points="376.3,48.6 380.4,52.3 383.5,54.8 386.6,57.4 387.6,60.4 387.6,63.5 386.5,65.5 383.5,67.6 382.5,69.6 376.3,72.7 375.7,74.8 373.3,76.8 373.2,78.8 373.6,80.9 373.7,83.0 374.3,85.0 375.4,87.0 375.6,89.1 376.3,91.1 377.3,93.1 376.1,95.2 379.0,97.2 378.4,99.3 378.3,101.3 378.9,103.3 378.3,105.4 378.4,107.4 377.6,109.7 377.7,112.0 377.4,114.3 376.3,116.6 378.4,119.7 377.2,121.8 376.3,123.8 377.2,125.8 378.4,127.9 377.4,129.9 375.5,132.2 372.7,134.4 378.4,138.1 378.3,140.1 379.4,142.2 379.9,144.8 382.5,147.3 389.4,149.4 395.8,151.4 390.7,154.4 390.2,156.5 389.4,158.5 390.7,160.6 394.7,163.2 384.5,166.7 383.5,170.0 381.9,172.1 381.5,174.1 379.1,176.1 377.4,178.2 375.5,180.6 374.3,182.9 374.3,185.3 377.9,187.9 381.5,190.4 384.1,192.9 385.5,195.5 387.9,197.6 390.7,199.6 401.9,202.7 400.4,205.2 399.9,207.8 397.1,210.4 393.7,212.9 399.9,215.4 405.0,218.0 399.9,221.1 406.8,223.1 414.2,225.2 415.6,227.2 416.2,229.3 392.7,232.3 392.9,234.4 391.7,236.4 384.9,238.9 378.4,241.5 381.9,243.6 386.6,245.6 386.3,247.6 385.5,249.7 390.8,251.8 395.8,253.8 400.9,256.9 410.9,258.9 419.3,260.9 428.5,264.4 421.5,266.8 416.2,269.1 417.3,271.1 419.3,273.2 416.3,275.6 413.3,278.0 412.1,280.4 418.0,282.4 424.1,284.5 429.5,286.5 419.4,288.9 411.4,291.2 400.9,293.6 401.0,296.2 399.9,298.8 391.7,300.8 396.7,303.0 400.9,305.1 404.7,307.1 408.0,309.2 417.2,311.2 420.4,313.2 422.3,315.3 417.8,317.4 415.2,319.4 413.1,321.5 414.1,323.5 414.2,325.5 395.8,328.6 393.7,331.7 392.6,333.8 390.7,335.8 383.8,337.9 379.4,339.9 380.7,341.9 381.5,343.9 383.3,346.4 385.5,349.0 385.0,351.6 383.5,354.2 380.6,356.2 378.4,358.2 376.8,360.2 375.3,362.3 376.9,364.4 377.4,366.4 379.4,368.5 379.8,370.9 379.3,373.2 379.4,375.6 379.1,378.0 377.7,380.4 377.4,382.8 381.2,384.9 383.5,386.9 386.6,389.9 400.9,393.0 399.8,395.1 397.8,397.1 392.7,400.1 390.5,402.1 388.6,404.2 387.5,406.8 385.5,409.3 389.0,411.9 390.7,414.4 393.0,417.0 392.7,419.6 388.0,421.6 385.5,423.6 384.1,425.7 381.8,427.7 379.4,429.8 381.9,432.5 384.5,435.1 384.1,437.5 386.0,439.9 385.5,442.3 383.3,444.7 383.2,447.0 381.5,449.4 388.0,451.4 392.7,453.5 393.7,456.6 396.7,458.6 401.9,460.7 401.2,462.7 400.9,464.7 392.3,466.8 385.5,468.8 389.3,470.9 392.7,472.9 388.7,475.4 382.5,478.0 387.3,480.1 388.1,482.1 392.7,484.2 389.2,486.2 386.6,488.2 387.4,490.6 388.4,493.0 387.6,495.4 386.3,497.4 384.5,499.5 385.0,502.1 386.6,504.6 395.8,507.7 397.8,510.7 411.1,513.8 403.9,516.9 403.9,519.9 389.6,523.0 394.7,526.1 390.3,528.1 385.5,530.1 392.7,533.2 394.2,535.8 395.8,538.3 387.6,541.4 386.6,542.0 383.4,544.0 380.4,546.1 378.4,548.2 378.4,550.2 379.4,552.3 378.6,554.3 377.5,556.4 376.3,558.4 376.2,561.0 376.3,563.5 374.3,566.2 378.4,568.6 378.2,570.7 378.4,572.7 378.0,574.8 379.4,576.8 378.6,578.8 378.4,580.9 377.9,582.9 375.5,585.0 374.3,587.0 372.3,589.4 373.2,591.8 371.2,594.2 371.6,596.8 371.2,599.3 372.3,600.9" fill="none" stroke="#000" stroke-width="1.15" stroke-linejoin="round"/><polyline points="214.5,416.5 207.4,419.6 207.9,422.1 209.4,424.7 208.1,426.8 208.4,428.8 210.4,432.0 209.4,434.1 209.8,436.1 210.4,438.2 209.7,440.6 209.1,442.9 207.4,445.3 208.5,447.9 209.4,450.4 211.1,452.9 213.5,455.5 213.8,457.6 215.5,459.6 216.8,461.6 216.6,463.7 225.8,466.8 224.7,469.9 230.9,473.3 224.7,476.0 224.4,478.1 223.7,480.1 218.6,483.1 219.9,485.1 222.7,487.2 222.6,489.2 224.7,491.3 224.3,493.3 224.7,495.4 218.6,497.4 214.5,499.5 209.3,501.8 204.3,504.0 203.1,506.4 203.3,508.7 205.7,511.1 208.5,513.4 211.5,515.8 213.1,518.3 215.5,520.9 216.9,523.0 217.6,525.0 215.9,527.1 213.8,529.1 212.5,531.2 211.7,533.8 210.4,536.3 206.3,539.3 207.1,541.6 205.9,543.9 207.0,546.2 207.4,548.5 209.5,550.8 212.7,553.0 215.5,555.3 215.8,557.3 217.6,559.4 223.7,561.5 219.6,564.5 221.7,566.5 223.7,568.6 224.2,571.2 224.7,573.7 217.6,576.8 217.1,578.8 216.3,580.9 216.6,582.9 212.3,584.9 207.7,587.0 204.3,589.0 203.3,592.1 202.0,594.7 202.3,597.2 201.2,600.9" fill="none" stroke="#000" stroke-width="1.15" stroke-linejoin="round"/><polygon points="558.7,48.6 558.7,48.6 558.7,51.2 558.7,54.7 558.7,55.3 558.7,59.4 558.7,64.5 558.7,71.7 558.7,78.8 558.7,85.0 558.7,91.1 558.7,96.2 558.7,100.3 558.7,103.4 558.7,107.4 558.7,116.6 558.7,120.7 558.7,124.8 558.7,131.0 558.7,138.1 558.7,146.3 558.7,150.0 571.0,151.8 561.8,154.4 558.7,156.5 558.7,159.6 558.7,162.6 558.7,166.7 558.7,170.8 558.7,174.1 558.7,178.2 558.7,186.3 558.7,189.4 575.1,192.1 562.8,193.5 559.7,195.5 558.7,198.6 558.7,203.7 558.7,208.8 558.7,212.9 558.7,217.0 558.7,221.1 558.7,226.2 558.7,233.4 558.7,238.5 558.7,241.5 558.7,245.6 558.7,251.7 572.0,256.9 592.4,259.5 617.0,260.3 643.5,263.0 610.8,267.1 643.5,273.2 610.8,275.3 586.3,277.3 561.8,281.4 568.9,285.5 560.8,288.1 558.7,289.6 558.7,292.6 558.7,293.7 558.7,296.1 579.2,298.6 563.8,301.2 584.3,304.3 593.5,306.3 590.4,309.4 587.3,313.5 584.3,315.5 565.9,318.6 558.7,320.7 558.7,325.8 558.7,327.8 558.7,332.9 558.7,338.0 558.7,340.1 558.7,345.2 558.7,347.2 558.7,351.3 558.7,359.5 558.7,363.6 558.7,368.7 558.7,373.8 558.7,383.0 558.7,388.1 558.7,391.2 558.7,394.2 558.7,400.4 558.7,409.6 558.7,411.6 558.7,414.7 602.7,419.8 576.1,422.8 573.0,425.9 558.7,428.2 558.7,431.2 558.7,433.9 567.9,435.3 564.9,438.4 570.0,441.5 580.2,446.2 563.8,449.6 581.2,452.7 573.0,455.8 578.1,457.8 577.1,460.9 579.2,463.9 558.7,466.6 558.7,469.0 558.7,473.1 558.7,477.2 558.7,481.3 562.8,483.8 558.7,486.4 558.7,490.5 558.7,496.6 558.7,500.7 572.0,503.8 617.0,505.8 660.9,507.5 645.6,509.9 655.8,510.9 623.1,513.0 592.4,516.1 594.5,518.1 558.7,522.2 565.9,525.3 558.7,527.3 558.7,530.4 573.0,532.8 574.0,535.5 586.3,536.9 614.9,538.5 586.3,540.6 578.1,542.6 576.1,543.6 558.9,546.6 558.7,548.8 562.2,551.4 558.7,552.4 558.7,554.6 558.7,559.0 558.7,561.9 558.7,564.1 558.7,567.0 558.7,569.9 558.7,572.8 558.7,576.5 558.7,580.1 558.7,583.8 558.7,586.7 558.7,589.6 558.7,590.4 558.7,592.6 558.7,594.7 558.7,596.2 558.7,597.7 558.7,597.7" fill="#fffab8" stroke="none"/><line x1="558.8" y1="31.2" x2="558.8" y2="622" stroke="#222" stroke-width="1.3" stroke-dasharray="4.9 4.8"/><polyline points="545.4,48.6 548.5,51.2 553.6,54.7 551.6,55.3 547.5,59.4 544.4,64.5 542.4,71.7 543.4,78.8 542.4,85.0 543.4,91.1 544.4,96.2 552.6,100.3 549.5,103.4 551.6,107.4 544.4,116.6 546.5,120.7 543.4,124.8 539.3,131.0 539.3,138.1 543.4,146.3 558.7,150.0 571.0,151.8 561.8,154.4 558.7,156.5 553.6,159.6 557.7,162.6 550.5,166.7 548.5,170.8 548.5,174.1 545.4,178.2 544.4,186.3 558.7,189.4 575.1,192.1 562.8,193.5 559.7,195.5 558.7,198.6 556.7,203.7 553.6,208.8 545.4,212.9 549.5,217.0 544.4,221.1 548.5,226.2 543.4,233.4 550.5,238.5 543.4,241.5 549.5,245.6 558.7,251.7 572.0,256.9 592.4,259.5 617.0,260.3 643.5,263.0 610.8,267.1 643.5,273.2 610.8,275.3 586.3,277.3 561.8,281.4 568.9,285.5 560.8,288.1 558.7,289.6 553.6,292.6 552.6,293.7 558.7,296.1 579.2,298.6 563.8,301.2 584.3,304.3 593.5,306.3 590.4,309.4 587.3,313.5 584.3,315.5 565.9,318.6 558.7,320.7 557.7,325.8 550.5,327.8 545.4,332.9 551.6,338.0 545.4,340.1 546.5,345.2 548.5,347.2 543.4,351.3 539.3,359.5 540.3,363.6 545.4,368.7 543.4,373.8 540.3,383.0 544.4,388.1 547.5,391.2 544.4,394.2 543.4,400.4 542.4,409.6 545.4,411.6 558.7,414.7 602.7,419.8 576.1,422.8 573.0,425.9 558.7,428.2 555.7,431.2 558.7,433.9 567.9,435.3 564.9,438.4 570.0,441.5 580.2,446.2 563.8,449.6 581.2,452.7 573.0,455.8 578.1,457.8 577.1,460.9 579.2,463.9 558.7,466.6 553.6,469.0 553.6,473.1 548.5,477.2 555.7,481.3 562.8,483.8 557.7,486.4 552.6,490.5 551.6,496.6 558.7,500.7 572.0,503.8 617.0,505.8 660.9,507.5 645.6,509.9 655.8,510.9 623.1,513.0 592.4,516.1 594.5,518.1 558.7,522.2 565.9,525.3 558.7,527.3 558.7,530.4 573.0,532.8 574.0,535.5 586.3,536.9 614.9,538.5 586.3,540.6 578.1,542.6 576.1,543.6 558.9,546.6 557.1,548.8 562.2,551.4 558.6,552.4 548.4,554.6 545.4,559.0 544.0,561.9 544.7,564.1 542.5,567.0 545.4,569.9 546.2,572.8 548.4,576.5 547.6,580.1 546.2,583.8 547.6,586.7 554.2,589.6 557.8,590.4 549.8,592.6 547.6,594.7 554.2,596.2 549.1,597.7 560.0,599.6 570.3,599.6 564.4,600.6 551.3,599.1" fill="none" stroke="#000" stroke-width="1.3" stroke-linejoin="round"/><line x1="46.4" y1="48.8" x2="46.4" y2="620.9" stroke="#222" stroke-width="1.2"/><line x1="40.6" y1="48.8" x2="46.4" y2="48.8" stroke="#444" stroke-width="1"/><line x1="40.6" y1="67.9" x2="46.4" y2="67.9" stroke="#444" stroke-width="1"/><line x1="40.6" y1="86.9" x2="46.4" y2="86.9" stroke="#444" stroke-width="1"/><line x1="40.6" y1="106.0" x2="46.4" y2="106.0" stroke="#444" stroke-width="1"/><line x1="40.6" y1="125.1" x2="46.4" y2="125.1" stroke="#444" stroke-width="1"/><line x1="40.6" y1="144.1" x2="46.4" y2="144.1" stroke="#444" stroke-width="1"/><line x1="40.6" y1="163.2" x2="46.4" y2="163.2" stroke="#444" stroke-width="1"/><line x1="40.6" y1="182.3" x2="46.4" y2="182.3" stroke="#444" stroke-width="1"/><line x1="40.6" y1="201.4" x2="46.4" y2="201.4" stroke="#444" stroke-width="1"/><line x1="40.6" y1="220.4" x2="46.4" y2="220.4" stroke="#444" stroke-width="1"/><line x1="40.6" y1="239.5" x2="46.4" y2="239.5" stroke="#444" stroke-width="1"/><line x1="40.6" y1="258.6" x2="46.4" y2="258.6" stroke="#444" stroke-width="1"/><line x1="40.6" y1="277.6" x2="46.4" y2="277.6" stroke="#444" stroke-width="1"/><line x1="40.6" y1="296.7" x2="46.4" y2="296.7" stroke="#444" stroke-width="1"/><line x1="40.6" y1="315.8" x2="46.4" y2="315.8" stroke="#444" stroke-width="1"/><line x1="40.6" y1="334.9" x2="46.4" y2="334.9" stroke="#444" stroke-width="1"/><line x1="40.6" y1="353.9" x2="46.4" y2="353.9" stroke="#444" stroke-width="1"/><line x1="40.6" y1="373.0" x2="46.4" y2="373.0" stroke="#444" stroke-width="1"/><line x1="40.6" y1="392.1" x2="46.4" y2="392.1" stroke="#444" stroke-width="1"/><line x1="40.6" y1="411.1" x2="46.4" y2="411.1" stroke="#444" stroke-width="1"/><line x1="40.6" y1="430.2" x2="46.4" y2="430.2" stroke="#444" stroke-width="1"/><line x1="40.6" y1="449.3" x2="46.4" y2="449.3" stroke="#444" stroke-width="1"/><line x1="40.6" y1="468.3" x2="46.4" y2="468.3" stroke="#444" stroke-width="1"/><line x1="40.6" y1="487.4" x2="46.4" y2="487.4" stroke="#444" stroke-width="1"/><line x1="40.6" y1="506.5" x2="46.4" y2="506.5" stroke="#444" stroke-width="1"/><line x1="40.6" y1="525.5" x2="46.4" y2="525.5" stroke="#444" stroke-width="1"/><line x1="40.6" y1="544.6" x2="46.4" y2="544.6" stroke="#444" stroke-width="1"/><line x1="40.6" y1="563.7" x2="46.4" y2="563.7" stroke="#444" stroke-width="1"/><line x1="40.6" y1="582.8" x2="46.4" y2="582.8" stroke="#444" stroke-width="1"/><line x1="40.6" y1="601.8" x2="46.4" y2="601.8" stroke="#444" stroke-width="1"/><line x1="40.6" y1="620.9" x2="46.4" y2="620.9" stroke="#444" stroke-width="1"/><text transform="translate(33.2,49.2) rotate(-90) scale(0.94,1)" text-anchor="middle" class="t">5</text><text transform="translate(33.2,144.5) rotate(-90) scale(0.94,1)" text-anchor="middle" class="t">10</text><text transform="translate(33.2,239.9) rotate(-90) scale(0.94,1)" text-anchor="middle" class="t">15</text><text transform="translate(33.2,335.2) rotate(-90) scale(0.94,1)" text-anchor="middle" class="t">20</text><text transform="translate(33.2,430.6) rotate(-90) scale(0.94,1)" text-anchor="middle" class="t">25</text><text transform="translate(33.2,525.9) rotate(-90) scale(0.94,1)" text-anchor="middle" class="t">30</text><text transform="translate(33.2,621.3) rotate(-90) scale(0.94,1)" text-anchor="middle" class="t">35</text><text transform="translate(9.6,322.5) rotate(-90)" text-anchor="middle" class="l2">Time (Ma)</text><line x1="68.3" y1="622.2" x2="168.2" y2="622.2" stroke="#222" stroke-width="1.1"/><line x1="68.3" y1="622.2" x2="68.3" y2="628.5" stroke="#222" stroke-width="1.1"/><line x1="93.3" y1="622.2" x2="93.3" y2="628.5" stroke="#222" stroke-width="1.1"/><line x1="118.3" y1="622.2" x2="118.3" y2="628.5" stroke="#222" stroke-width="1.1"/><line x1="143.3" y1="622.2" x2="143.3" y2="628.5" stroke="#222" stroke-width="1.1"/><line x1="168.3" y1="622.2" x2="168.3" y2="628.5" stroke="#222" stroke-width="1.1"/><text transform="translate(68.3,643.5) scale(0.94,1)" text-anchor="middle" class="t">1.0</text><text transform="translate(93.3,643.5) scale(0.94,1)" text-anchor="middle" class="t">1.5</text><text transform="translate(118.3,643.5) scale(0.94,1)" text-anchor="middle" class="t">2.0</text><text transform="translate(143.3,643.5) scale(0.94,1)" text-anchor="middle" class="t">2.5</text><text transform="translate(168.3,643.5) scale(0.94,1)" text-anchor="middle" class="t">3.0</text><line x1="198.4" y1="622.2" x2="321.5" y2="622.2" stroke="#222" stroke-width="1.1"/><line x1="198.4" y1="622.2" x2="198.4" y2="628.5" stroke="#222" stroke-width="1.1"/><line x1="223.0" y1="622.2" x2="223.0" y2="628.5" stroke="#222" stroke-width="1.1"/><line x1="247.6" y1="622.2" x2="247.6" y2="628.5" stroke="#222" stroke-width="1.1"/><line x1="272.3" y1="622.2" x2="272.3" y2="628.5" stroke="#222" stroke-width="1.1"/><line x1="296.9" y1="622.2" x2="296.9" y2="628.5" stroke="#222" stroke-width="1.1"/><line x1="321.5" y1="622.2" x2="321.5" y2="628.5" stroke="#222" stroke-width="1.1"/><text transform="translate(198.4,643.5) scale(0.94,1)" text-anchor="middle" class="t">0.000</text><text transform="translate(247.6,643.5) scale(0.94,1)" text-anchor="middle" class="t">0.004</text><text transform="translate(296.9,643.5) scale(0.94,1)" text-anchor="middle" class="t">0.008</text><line x1="368.2" y1="622.2" x2="491.6" y2="622.2" stroke="#222" stroke-width="1.1"/><line x1="368.2" y1="622.2" x2="368.2" y2="628.5" stroke="#222" stroke-width="1.1"/><line x1="392.9" y1="622.2" x2="392.9" y2="628.5" stroke="#222" stroke-width="1.1"/><line x1="417.6" y1="622.2" x2="417.6" y2="628.5" stroke="#222" stroke-width="1.1"/><line x1="442.2" y1="622.2" x2="442.2" y2="628.5" stroke="#222" stroke-width="1.1"/><line x1="466.9" y1="622.2" x2="466.9" y2="628.5" stroke="#222" stroke-width="1.1"/><line x1="491.6" y1="622.2" x2="491.6" y2="628.5" stroke="#222" stroke-width="1.1"/><text transform="translate(368.2,643.5) scale(0.94,1)" text-anchor="middle" class="t">0.000</text><text transform="translate(417.6,643.5) scale(0.94,1)" text-anchor="middle" class="t">0.004</text><text transform="translate(466.9,643.5) scale(0.94,1)" text-anchor="middle" class="t">0.008</text><line x1="537.3" y1="622.2" x2="665.5" y2="622.2" stroke="#222" stroke-width="1.1"/><line x1="537.3" y1="622.2" x2="537.3" y2="628.5" stroke="#222" stroke-width="1.1"/><line x1="558.7" y1="622.2" x2="558.7" y2="628.5" stroke="#222" stroke-width="1.1"/><line x1="580.0" y1="622.2" x2="580.0" y2="628.5" stroke="#222" stroke-width="1.1"/><line x1="601.4" y1="622.2" x2="601.4" y2="628.5" stroke="#222" stroke-width="1.1"/><line x1="622.8" y1="622.2" x2="622.8" y2="628.5" stroke="#222" stroke-width="1.1"/><line x1="644.1" y1="622.2" x2="644.1" y2="628.5" stroke="#222" stroke-width="1.1"/><line x1="665.5" y1="622.2" x2="665.5" y2="628.5" stroke="#222" stroke-width="1.1"/><text transform="translate(537.3,643.5) scale(0.94,1)" text-anchor="middle" class="t">0</text><text transform="translate(558.7,643.5) scale(0.94,1)" text-anchor="middle" class="t">1</text><text transform="translate(580.0,643.5) scale(0.94,1)" text-anchor="middle" class="t">2</text><text transform="translate(601.4,643.5) scale(0.94,1)" text-anchor="middle" class="t">3</text><text transform="translate(622.8,643.5) scale(0.94,1)" text-anchor="middle" class="t">4</text><text transform="translate(644.1,643.5) scale(0.94,1)" text-anchor="middle" class="t">5</text><text transform="translate(665.5,643.5) scale(0.94,1)" text-anchor="middle" class="t">6</text><text x="107" y="663.7" text-anchor="middle" class="l">δ<tspan class="sup" dy="-5.2">18</tspan><tspan dy="5.2">O (‰)</tspan></text><text x="259.8" y="663.7" text-anchor="middle" class="l">Variance (‰<tspan class="sup" dx="0.8" dy="-5.5">2</tspan><tspan dy="5.5">)</tspan></text><text x="430" y="663.7" text-anchor="middle" class="l">Variance (‰<tspan class="sup" dx="0.8" dy="-5.5">2</tspan><tspan dy="5.5">)</tspan></text><text x="17.6" y="12.4" class="pl">(a)</text><text x="194.8" y="12.4" class="pl">(b)</text><text x="361.1" y="12.4" class="pl">(c)</text><text x="519.1" y="15.9" class="pl">(d)</text><text x="107.2" y="31.1" text-anchor="middle" class="tt">δ<tspan class="sups" dy="-5.4">18</tspan><tspan dy="5.4">O splice</tspan></text><text x="259.3" y="31.1" text-anchor="middle" class="tt">40 kyr δ<tspan class="sups" dy="-5.4">18</tspan><tspan dy="5.4">O Response</tspan></text><text x="429.5" y="31.1" text-anchor="middle" class="tt">50 kyr δ<tspan class="sups" dy="-5.4">18</tspan><tspan dy="5.4">O Response</tspan></text><text x="599.8" y="31.1" text-anchor="middle" class="tt">50 kyr/40 kyr δ<tspan class="sups" dy="-5.4">18</tspan><tspan dy="5.4">O Response</tspan></text><text x="18.5" y="708.3" class="pl">(e)</text><g fill="none" stroke="#606060" stroke-opacity="0.62" stroke-width="1.0"><path d="M75.6,752.2H103.0"/><path d="M75.6,752.6H82.4"/><path d="M75.6,753.5H82.4"/><path d="M75.6,754.9H82.4"/><path d="M75.6,756.4H82.4"/><path d="M75.6,758.3H82.4"/><path d="M75.6,761.1H89.3"/><path d="M75.6,764.0H82.4"/><path d="M75.6,765.5H96.1"/><path d="M75.6,765.9H82.4"/><path d="M75.6,766.8H89.3"/><path d="M75.6,767.2H82.4"/><path d="M75.6,767.8H192.0"/><path d="M75.6,768.2H89.3"/><path d="M75.6,769.3H150.9"/><path d="M75.6,769.7H82.4"/><path d="M75.6,770.2H116.7"/><path d="M75.6,770.6H82.4"/><path d="M75.6,771.2H89.3"/><path d="M75.6,771.6H82.4"/><path d="M75.6,772.5H109.8"/><path d="M75.6,773.5H130.4"/><path d="M75.6,773.9H89.3"/><path d="M75.6,775.0H130.4"/><path d="M75.6,775.4H82.4"/><path d="M75.6,776.3H109.8"/><path d="M75.6,776.7H96.1"/><path d="M75.6,777.6H130.4"/><path d="M75.6,778.0H82.4"/><path d="M75.6,778.8H89.3"/><path d="M75.6,780.1H89.3"/><path d="M75.6,780.5H82.4"/><path d="M75.6,781.4H96.1"/><path d="M75.6,782.6H109.8"/><path d="M75.6,783.0H89.3"/><path d="M75.6,783.9H109.8"/><path d="M75.6,784.3H82.4"/><path d="M75.6,785.2H89.3"/><path d="M75.6,785.6H82.4"/><path d="M75.6,786.4H89.3"/><path d="M75.6,786.8H82.4"/><path d="M75.6,788.3H96.1"/><path d="M75.6,788.7H89.3"/><path d="M75.6,789.6H82.4"/><path d="M75.6,791.5H103.0"/><path d="M75.6,793.4H109.8"/><path d="M75.6,793.8H96.1"/><path d="M75.6,794.7H103.0"/><path d="M75.6,795.1H89.3"/><path d="M75.6,795.9H109.8"/><path d="M75.6,797.2H82.4"/><path d="M75.6,798.5H82.4"/><path d="M75.6,800.0H82.4"/><path d="M75.6,801.5H82.4"/><path d="M75.6,802.9H130.4"/><path d="M75.6,803.3H96.1"/><path d="M75.6,804.2H109.8"/><path d="M75.6,805.7H96.1"/><path d="M75.6,806.1H89.3"/><path d="M75.6,807.2H89.3"/><path d="M75.6,807.6H82.4"/><path d="M75.6,808.6H82.4"/><path d="M75.6,810.3H82.4"/><path d="M75.6,811.6H96.1"/><path d="M75.6,812.0H89.3"/><path d="M75.6,813.5H116.7"/><path d="M75.6,813.9H96.1"/><path d="M75.6,814.1H130.4"/><path d="M75.6,814.5H89.3"/><path d="M75.6,815.4H89.3"/><path d="M75.6,815.8H82.4"/><path d="M75.6,817.3H109.8"/><path d="M75.6,817.7H82.4"/><path d="M75.6,818.7H96.1"/><path d="M75.6,819.8H123.5"/><path d="M75.6,821.1H157.8"/><path d="M75.6,821.5H96.1"/><path d="M75.6,822.1H144.1"/><path d="M75.6,822.5H96.1"/><path d="M75.6,823.0H109.8"/><path d="M75.6,823.4H96.1"/><path d="M75.6,824.0H103.0"/><path d="M75.6,824.4H89.3"/><path d="M75.6,824.9H96.1"/><path d="M75.6,826.8H89.3"/><path d="M75.6,827.8H82.4"/><path d="M75.6,829.3H137.2"/><path d="M75.6,830.6H82.4"/><path d="M75.6,831.9H82.4"/><path d="M75.6,833.5H82.4"/><path d="M75.6,834.8H82.4"/><path d="M75.6,837.3H96.1"/><path d="M75.6,837.7H82.4"/><path d="M75.6,838.8H103.0"/><path d="M75.6,839.2H82.4"/><path d="M75.6,840.1H89.3"/><path d="M75.6,840.5H82.4"/><path d="M75.6,842.0H89.3"/><path d="M75.6,842.4H82.4"/><path d="M75.6,843.9H82.4"/><path d="M75.6,845.8H109.8"/><path d="M75.6,846.2H96.1"/><path d="M75.6,847.1H96.1"/><path d="M75.6,848.6H89.3"/><path d="M75.6,850.5H89.3"/><path d="M75.6,850.9H82.4"/><path d="M75.6,852.1H109.8"/><path d="M75.6,853.4H130.4"/><path d="M75.6,853.8H89.3"/><path d="M75.6,854.7H109.8"/><path d="M75.6,855.1H89.3"/><path d="M75.6,855.9H116.7"/><path d="M75.6,856.3H89.3"/><path d="M75.6,857.2H103.0"/><path d="M75.6,857.6H89.3"/><path d="M75.6,858.5H89.3"/><path d="M75.6,858.9H82.4"/><path d="M75.6,860.0H96.1"/><path d="M75.6,860.4H82.4"/><path d="M75.6,861.2H144.1"/><path d="M75.6,861.6H96.1"/><path d="M75.6,862.3H109.8"/><path d="M75.6,862.7H82.4"/><path d="M75.6,863.8H89.3"/><path d="M75.6,864.2H82.4"/><path d="M75.6,865.2H116.7"/><path d="M75.6,866.7H89.3"/><path d="M75.6,867.1H82.4"/><path d="M75.6,868.6H82.4"/><path d="M75.6,870.3H103.0"/><path d="M75.6,871.6H96.1"/><path d="M75.6,872.0H82.4"/><path d="M75.6,873.5H96.1"/><path d="M75.6,873.9H82.4"/><path d="M75.6,875.4H89.3"/><path d="M75.6,875.8H82.4"/><path d="M75.6,877.3H96.1"/><path d="M75.6,878.3H96.1"/><path d="M75.6,878.7H89.3"/><path d="M75.6,880.2H103.0"/><path d="M75.6,882.1H89.3"/><path d="M75.6,884.0H103.0"/><path d="M75.6,885.9H82.4"/><path d="M75.6,887.4H96.1"/><path d="M75.6,889.3H96.1"/><path d="M75.6,891.2H103.0"/><path d="M75.6,891.6H82.4"/><path d="M75.6,893.1H109.8"/><path d="M75.6,893.5H82.4"/><path d="M75.6,894.4H96.1"/><path d="M75.6,894.8H82.4"/><path d="M75.6,895.9H103.0"/><path d="M75.6,896.3H89.3"/><path d="M75.6,898.8H116.7"/><path d="M75.6,899.2H82.4"/><path d="M75.6,900.1H96.1"/><path d="M75.6,900.5H89.3"/><path d="M75.6,902.0H103.0"/><path d="M75.6,902.4H82.4"/><path d="M75.6,903.3H89.3"/><path d="M75.6,903.7H82.4"/><path d="M75.6,905.2H144.1"/><path d="M75.6,905.6H82.4"/><path d="M75.6,906.7H103.0"/><path d="M75.6,907.1H96.1"/><path d="M75.6,908.3H89.3"/><path d="M75.6,908.7H82.4"/><path d="M75.6,910.2H89.3"/><path d="M75.6,910.6H82.4"/><path d="M75.6,912.1H109.8"/><path d="M75.6,912.5H89.3"/><path d="M75.6,914.0H130.4"/><path d="M75.6,915.3H137.2"/><path d="M75.6,915.7H82.4"/><path d="M75.6,917.2H109.8"/><path d="M75.6,917.6H96.1"/><path d="M75.6,918.5H96.1"/><path d="M75.6,920.0H116.7"/><path d="M75.6,920.4H89.3"/><path d="M75.6,921.9H103.0"/><path d="M75.6,924.2H109.8"/><path d="M75.6,924.6H89.3"/><path d="M75.6,925.7H109.8"/><path d="M75.6,926.1H96.1"/><path d="M75.6,926.5H103.0"/><path d="M75.6,928.4H96.1"/><path d="M75.6,928.8H82.4"/><path d="M75.6,929.7H109.8"/><path d="M75.6,930.1H82.4"/><path d="M75.6,932.2H89.3"/><path d="M75.6,934.1H103.0"/><path d="M75.6,934.5H89.3"/><path d="M75.6,936.0H96.1"/><path d="M75.6,936.4H82.4"/><path d="M75.6,937.3H103.0"/><path d="M75.6,938.7H116.7"/><path d="M75.6,939.1H82.4"/><path d="M75.6,940.2H96.1"/><path d="M75.6,941.7H171.5"/><path d="M75.6,942.1H96.1"/><path d="M75.6,942.5H130.4"/><path d="M75.6,942.9H82.4"/><path d="M75.6,944.0H96.1"/><path d="M75.6,944.4H89.3"/><path d="M75.6,945.9H89.3"/><path d="M75.6,946.3H82.4"/><path d="M75.6,947.4H130.4"/><path d="M75.6,947.8H82.4"/><path d="M75.6,948.7H198.9"/><path d="M75.6,949.3H109.8"/><path d="M75.6,949.7H89.3"/><path d="M75.6,950.2H130.4"/><path d="M75.6,950.6H96.1"/><path d="M75.6,951.6H123.5"/><path d="M75.6,952.0H89.3"/><path d="M75.6,953.5H144.1"/><path d="M75.6,953.9H89.3"/><path d="M75.6,955.0H89.3"/><path d="M75.6,955.4H82.4"/><path d="M75.6,956.3H89.3"/><path d="M75.6,956.7H82.4"/><path d="M75.6,957.6H123.5"/><path d="M75.6,958.0H82.4"/><path d="M75.6,959.2H89.3"/><path d="M75.6,959.6H82.4"/><path d="M75.6,961.1H123.5"/><path d="M75.6,961.5H89.3"/><path d="M75.6,962.6H137.2"/><path d="M75.6,963.0H82.4"/><path d="M75.6,963.9H109.8"/><path d="M75.6,965.2H103.0"/><path d="M75.6,965.6H96.1"/><path d="M75.6,967.1H123.5"/><path d="M75.6,968.6H116.7"/><path d="M75.6,970.2H96.1"/><path d="M75.6,970.6H82.4"/><path d="M75.6,970.9H109.8"/><path d="M75.6,972.1H82.4"/><path d="M75.6,759.7H82.4"/><path d="M75.6,762.6H89.3"/><path d="M75.6,792.4H82.4"/><path d="M75.6,809.4H89.3"/><path d="M75.6,812.6H82.4"/><path d="M75.6,836.0H82.4"/><path d="M75.6,841.1H82.4"/><path d="M75.6,843.0H82.4"/><path d="M75.6,844.8H82.4"/><path d="M75.6,867.6H89.3"/><path d="M75.6,869.4H82.4"/><path d="M75.6,874.5H89.3"/><path d="M75.6,876.4H89.3"/><path d="M75.6,879.2H82.4"/><path d="M75.6,881.1H82.4"/><path d="M75.6,883.0H82.4"/><path d="M75.6,884.9H82.4"/><path d="M75.6,888.3H82.4"/><path d="M75.6,890.2H82.4"/><path d="M75.6,892.1H82.4"/><path d="M75.6,904.3H89.3"/><path d="M75.6,909.2H82.4"/><path d="M75.6,913.0H89.3"/><path d="M75.6,916.2H82.4"/><path d="M75.6,931.0H82.4"/><path d="M75.6,933.2H82.4"/><path d="M75.6,935.1H89.3"/><path d="M75.6,944.9H89.3"/><path d="M75.6,952.5H89.3"/></g><line x1="64.2" y1="751.3" x2="71" y2="751.3" stroke="#222" stroke-width="1.3"/><text x="60.5" y="754.9" text-anchor="end" class="e">800</text><line x1="64.2" y1="795.5" x2="71" y2="795.5" stroke="#222" stroke-width="1.3"/><text x="60.5" y="799.1" text-anchor="end" class="e">820</text><line x1="64.2" y1="839.7" x2="71" y2="839.7" stroke="#222" stroke-width="1.3"/><text x="60.5" y="843.3" text-anchor="end" class="e">840</text><line x1="64.2" y1="883.8" x2="71" y2="883.8" stroke="#222" stroke-width="1.3"/><text x="60.5" y="887.4" text-anchor="end" class="e">860</text><line x1="64.2" y1="928.0" x2="71" y2="928.0" stroke="#222" stroke-width="1.3"/><text x="60.5" y="931.6" text-anchor="end" class="e">880</text><line x1="64.2" y1="972.2" x2="71" y2="972.2" stroke="#222" stroke-width="1.3"/><text x="60.5" y="975.8" text-anchor="end" class="e">900</text><line x1="187.5" y1="761.0" x2="194.5" y2="761.0" stroke="#222" stroke-width="1.3"/><text x="199.5" y="765.1" class="e2">18.8</text><line x1="187.5" y1="807.4" x2="194.5" y2="807.4" stroke="#222" stroke-width="1.3"/><text x="199.5" y="811.5" class="e2">18.9</text><line x1="187.5" y1="853.8" x2="194.5" y2="853.8" stroke="#222" stroke-width="1.3"/><text x="199.5" y="857.9" class="e2">19.0</text><line x1="187.5" y1="900.2" x2="194.5" y2="900.2" stroke="#222" stroke-width="1.3"/><text x="199.5" y="904.3" class="e2">19.1</text><line x1="187.5" y1="946.6" x2="194.5" y2="946.6" stroke="#222" stroke-width="1.3"/><text x="199.5" y="950.7" class="e2">19.2</text><line x1="75.6" y1="982" x2="178.4" y2="982" stroke="#222" stroke-width="1.1"/><line x1="75.6" y1="982" x2="75.6" y2="988.5" stroke="#222" stroke-width="1.1"/><text x="75.6" y="1003" text-anchor="middle" class="e2">0</text><line x1="109.9" y1="982" x2="109.9" y2="988.5" stroke="#222" stroke-width="1.1"/><text x="109.9" y="1003" text-anchor="middle" class="e2">5</text><line x1="144.1" y1="982" x2="144.1" y2="988.5" stroke="#222" stroke-width="1.1"/><text x="144.1" y="1003" text-anchor="middle" class="e2">10</text><line x1="178.4" y1="982" x2="178.4" y2="988.5" stroke="#222" stroke-width="1.1"/><text x="178.4" y="1003" text-anchor="middle" class="e2">15</text><text x="125.7" y="1022" text-anchor="middle" class="e4">Number of clasts</text><text transform="translate(30.4,860.2) rotate(-90)" text-anchor="middle" class="e5">Depth (mbsf)</text><text transform="translate(230.5,858) rotate(90)" text-anchor="middle" class="e3">Age (Ma)</text><text x="266.2" y="708.3" class="pl">(f)</text><rect x="275.7" y="718.5" width="54.2" height="261.3" fill="#e6e7e8"/><rect x="447.9" y="718.5" width="66.8" height="261.3" fill="#e6e7e8"/><rect x="364" y="718.5" width="22.8" height="261.3" fill="#b9d3ea"/><polyline points="275.40,829.30 283.93,829.40 292.46,829.53 300.99,829.70 309.52,829.91 318.05,830.16 326.58,830.45 335.12,830.77 343.65,831.13 352.18,831.54 360.71,831.98 369.24,832.45 377.77,832.97 386.30,833.53 394.83,834.12 403.36,834.75 411.89,835.42 420.42,836.13 428.95,836.88 437.48,837.66 446.02,838.49 454.55,839.35 463.08,840.25 471.61,841.19 480.14,842.17 488.67,843.18 497.20,844.23 505.73,845.33 514.26,846.46 522.79,847.63 531.32,848.83 539.85,850.08 548.38,851.36 556.92,852.69 565.45,854.05 573.98,855.44 582.51,856.88 591.04,858.36 599.57,859.87 608.10,861.42" fill="none" stroke="#e8343c" stroke-width="1.25" stroke-dasharray="5.4 4.5" stroke-dashoffset="6.75"/><polyline points="275.40,879.20 283.93,879.28 292.46,879.38 300.99,879.50 309.52,879.65 318.05,879.82 326.58,880.02 335.12,880.24 343.65,880.49 352.18,880.76 360.71,881.05 369.24,881.37 377.77,881.71 386.30,882.08 394.83,882.47 403.36,882.88 411.89,883.32 420.42,883.79 428.95,884.27 437.48,884.79 446.02,885.32 454.55,885.88 463.08,886.47 471.61,887.07 480.14,887.71 488.67,888.36 497.20,889.04 505.73,889.75 514.26,890.48 522.79,891.23 531.32,892.01 539.85,892.81 548.38,893.64 556.92,894.49 565.45,895.36 573.98,896.26 582.51,897.18 591.04,898.13 599.57,899.10 608.10,900.09" fill="none" stroke="#e8343c" stroke-width="1.25" stroke-dasharray="5.4 4.5" stroke-dashoffset="6.75"/><polyline points="275.40,901.10 283.93,901.14 292.46,901.20 300.99,901.27 309.52,901.37 318.05,901.48 326.58,901.62 335.12,901.77 343.65,901.95 352.18,902.14 360.71,902.35 369.24,902.58 377.77,902.83 386.30,903.10 394.83,903.38 403.36,903.69 411.89,904.02 420.42,904.36 428.95,904.73 437.48,905.11 446.02,905.51 454.55,905.94 463.08,906.38 471.61,906.84 480.14,907.32 488.67,907.82 497.20,908.33 505.73,908.87 514.26,909.43 522.79,910.00 531.32,910.60 539.85,911.21 548.38,911.84 556.92,912.49 565.45,913.17 573.98,913.86 582.51,914.57 591.04,915.29 599.57,916.04 608.10,916.81" fill="none" stroke="#e8464b" stroke-width="2.5"/><path d="M275.4,972.2 C275.8,972.0 277.1,973.2 277.8,971.2 C278.5,969.2 278.8,966.0 279.3,960.0 C279.8,954.0 280.1,952.0 280.9,935.0 C281.7,918.0 283.3,873.0 284.1,858.0 C284.9,843.0 284.9,844.0 285.7,845.0 C286.5,846.0 288.1,849.0 288.9,864.0 C289.7,879.0 290.0,917.8 290.5,935.0 C291.0,952.2 291.6,962.5 292.1,967.0 C292.6,971.5 293.1,965.0 293.7,962.0 C294.3,959.0 295.3,949.8 296.0,949.3 C296.7,948.8 297.3,956.6 297.9,959.0 C298.5,961.4 298.9,967.8 299.5,963.8 C300.1,959.8 300.8,944.6 301.7,935.0 C302.6,925.4 304.0,906.0 305.0,906.0 C306.0,906.0 306.8,926.3 307.5,935.0 C308.2,943.7 308.5,962.1 309.1,958.3 C309.8,954.5 310.7,938.4 311.4,912.0 C312.1,885.6 312.5,826.8 313.2,800.0 C313.9,773.2 314.9,751.3 315.8,751.3 C316.7,751.3 317.6,778.5 318.4,800.0 C319.2,821.5 319.7,858.5 320.6,880.0 C321.5,901.5 322.8,917.7 323.9,929.0 C325.0,940.3 325.8,940.9 327.0,948.0 C328.2,955.1 329.9,974.8 331.3,971.8 C332.7,968.8 334.3,941.8 335.5,930.0 C336.7,918.2 337.6,904.7 338.7,901.2 C339.8,897.7 340.8,917.7 341.9,909.2 C343.0,900.7 344.1,864.2 345.1,850.0 C346.1,835.8 346.9,826.4 347.7,824.1 C348.5,821.8 349.1,821.4 350.0,836.0 C350.9,850.6 352.2,891.5 353.1,912.0 C354.1,932.5 354.6,951.7 355.7,959.0 C356.8,966.3 358.2,954.9 359.5,955.7 C360.8,956.5 362.2,961.2 363.5,963.8 C364.8,966.4 366.1,976.3 367.4,971.5 C368.7,966.7 369.9,945.1 371.2,935.0 C372.5,924.9 373.7,910.3 375.0,910.8 C376.3,911.3 377.5,928.6 378.8,938.0 C380.1,947.4 381.1,963.8 382.7,967.0 C384.3,970.2 386.7,956.9 388.5,957.4 C390.3,957.9 391.2,970.1 393.3,970.2 C395.4,970.3 399.2,958.8 401.3,958.0 C403.4,957.2 404.5,965.5 406.1,965.4 C407.7,965.3 409.3,956.7 410.9,957.4 C412.5,958.1 413.5,971.0 415.7,969.6 C417.9,968.2 421.9,952.1 423.8,949.3 C425.7,946.4 425.6,952.9 427.0,952.5 C428.4,952.1 430.8,945.2 432.4,947.1 C434.0,949.0 435.0,962.9 436.6,963.8 C438.2,964.7 440.6,952.1 442.1,952.5 C443.6,952.9 444.4,963.1 445.4,966.3 C446.4,969.5 446.9,971.7 447.9,971.8 C448.8,971.9 450.0,967.5 451.1,967.0 C452.2,966.5 452.8,973.8 454.3,968.6 C455.9,963.4 458.7,935.5 460.4,935.9 C462.1,936.3 463.0,977.0 464.3,971.0 C465.6,965.0 466.9,921.8 468.0,900.0 C469.1,878.2 470.1,840.4 471.1,840.4 C472.1,840.4 473.1,880.2 474.0,900.0 C474.9,919.8 475.7,959.2 476.8,959.2 C477.9,959.2 479.4,919.1 480.4,900.0 C481.4,880.9 481.9,844.7 482.9,844.7 C483.9,844.7 485.2,882.5 486.4,900.0 C487.6,917.5 488.9,939.1 490.0,950.0 C491.1,960.9 492.0,963.4 492.9,965.2 C493.8,967.0 494.6,961.0 495.4,961.0 C496.2,961.0 496.8,970.4 497.9,965.2 C499.0,960.0 500.5,938.8 502.0,930.0 C503.5,921.2 505.4,910.2 506.9,912.7 C508.4,915.2 509.8,937.5 510.9,945.0 C512.0,952.5 512.4,955.3 513.3,957.4 C514.2,959.5 515.0,955.9 516.2,957.4 C517.4,958.9 519.0,966.8 520.5,966.3 C522.0,965.8 523.7,954.8 525.1,954.5 C526.5,954.2 527.1,968.5 528.7,964.5 C530.3,960.5 532.9,929.9 534.8,930.5 C536.7,931.1 538.4,967.8 540.1,968.1 C541.8,968.4 543.1,932.3 544.8,932.3 C546.5,932.3 548.4,965.5 550.2,968.1 C552.0,970.7 553.6,948.3 555.5,947.7 C557.4,947.1 559.7,960.8 561.6,964.5 C563.5,968.2 564.9,973.6 567.0,969.9 C569.1,966.1 571.9,942.3 574.1,942.0 C576.3,941.7 578.1,963.5 580.2,968.1 C582.3,972.8 584.9,970.4 586.6,969.9 C588.3,969.4 588.4,967.6 590.2,965.2 C592.0,962.8 595.3,955.4 597.4,955.6 C599.5,955.8 600.9,965.7 602.7,966.3 C604.5,966.9 607.2,960.4 608.1,959.2" fill="none" stroke="#000" stroke-width="2.6" stroke-linejoin="round"/><rect x="337" y="718.5" width="17.8" height="261.3" fill="#fff200" fill-opacity="0.24"/><text x="405.2" y="831.9" text-anchor="middle" class="pc">99%</text><text x="409.3" y="879.7" text-anchor="middle" class="pc">95%</text><text x="409.3" y="916.6" text-anchor="middle" class="pc">90%</text><text x="313" y="745.4" text-anchor="middle" class="fb">~100 kyr</text><text transform="translate(350.6,793.5) rotate(-90)" text-anchor="middle" class="fb">~50 kyr</text><text transform="translate(379.2,802) rotate(-90)" text-anchor="middle" class="fb">~40 kyr</text><text x="481.6" y="825" text-anchor="middle" class="fb2">Precession</text><text x="502" y="754.4" text-anchor="middle" class="big">AND-2A</text><line x1="275.4" y1="981.6" x2="590" y2="981.6" stroke="#222" stroke-width="1.2"/><line x1="275.4" y1="981.6" x2="275.4" y2="988.3" stroke="#222" stroke-width="1.2"/><text x="275.4" y="1009.5" text-anchor="middle" class="fx">0.00</text><line x1="354.1" y1="981.6" x2="354.1" y2="988.3" stroke="#222" stroke-width="1.2"/><text x="354.1" y="1009.5" text-anchor="middle" class="fx">0.02</text><line x1="432.8" y1="981.6" x2="432.8" y2="988.3" stroke="#222" stroke-width="1.2"/><text x="432.8" y="1009.5" text-anchor="middle" class="fx">0.04</text><line x1="511.5" y1="981.6" x2="511.5" y2="988.3" stroke="#222" stroke-width="1.2"/><text x="511.5" y="1009.5" text-anchor="middle" class="fx">0.06</text><line x1="590.2" y1="981.6" x2="590.2" y2="988.3" stroke="#222" stroke-width="1.2"/><text x="590.2" y="1009.5" text-anchor="middle" class="fx">0.08</text><text x="455.9" y="1038.5" text-anchor="middle" class="fx2">Frequency (cycles/kyr)</text><line x1="616.2" y1="972.2" x2="622.8" y2="972.2" stroke="#222" stroke-width="1.2"/><text x="626" y="976.8" class="fy">0.000</text><line x1="616.2" y1="936.0" x2="622.8" y2="936.0" stroke="#222" stroke-width="1.2"/><text x="626" y="940.6" class="fy">0.005</text><line x1="616.2" y1="899.9" x2="622.8" y2="899.9" stroke="#222" stroke-width="1.2"/><text x="626" y="904.5" class="fy">0.010</text><line x1="616.2" y1="863.7" x2="622.8" y2="863.7" stroke="#222" stroke-width="1.2"/><text x="626" y="868.3" class="fy">0.015</text><line x1="616.2" y1="827.6" x2="622.8" y2="827.6" stroke="#222" stroke-width="1.2"/><text x="626" y="832.2" class="fy">0.020</text><line x1="616.2" y1="791.4" x2="622.8" y2="791.4" stroke="#222" stroke-width="1.2"/><text x="626" y="796.0" class="fy">0.025</text><line x1="616.2" y1="755.2" x2="622.8" y2="755.2" stroke="#222" stroke-width="1.2"/><text x="626" y="759.8" class="fy">0.030</text><text transform="translate(669,868.3) rotate(90)" text-anchor="middle" class="pw">Power</text></svg></body></html>
